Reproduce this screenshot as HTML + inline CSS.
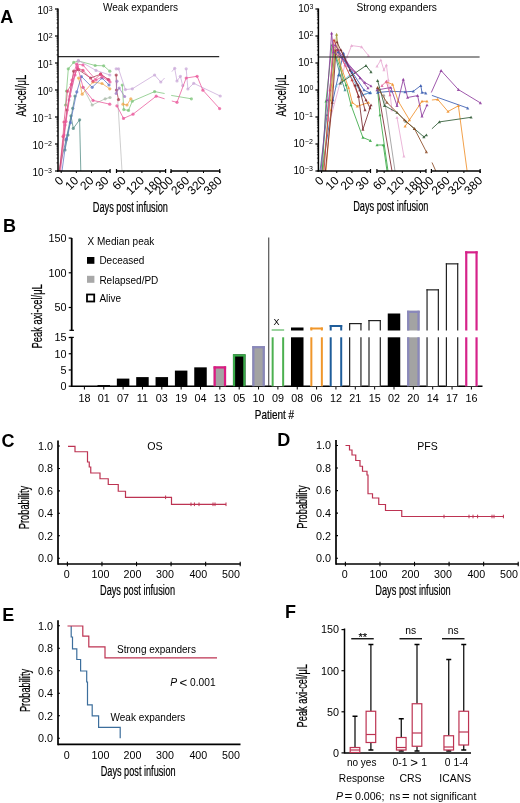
<!DOCTYPE html>
<html><head><meta charset="utf-8"><style>
html,body{margin:0;padding:0;background:#fff;}
svg{display:block;font-family:"Liberation Sans", sans-serif;filter:blur(0.3px);}
</style></head><body>
<svg width="520" height="803" viewBox="0 0 520 803">
<rect width="520" height="803" fill="#fff"/>
<text x="0.30" y="23.00" font-size="18" text-anchor="start" font-weight="bold" fill="#000" >A</text>
<text x="2.90" y="232.30" font-size="18" text-anchor="start" font-weight="bold" fill="#000" >B</text>
<text x="1.60" y="446.90" font-size="18" text-anchor="start" font-weight="bold" fill="#000" >C</text>
<text x="277.30" y="446.10" font-size="18" text-anchor="start" font-weight="bold" fill="#000" >D</text>
<text x="2.20" y="621.10" font-size="18" text-anchor="start" font-weight="bold" fill="#000" >E</text>
<text x="285.00" y="618.20" font-size="18" text-anchor="start" font-weight="bold" fill="#000" >F</text>
<polyline points="117.7,99.6 122.0,171.0" fill="none" stroke="#bdbdbd" stroke-width="1.0" stroke-linejoin="round" opacity="0.75"/>
<polyline points="83.0,87.3 92.2,105.0 105.2,98.8 110.0,97.5" fill="none" stroke="#a9bba9" stroke-width="1.0" stroke-linejoin="round" opacity="0.75"/>
<circle cx="83.0" cy="87.3" r="1.6" fill="#a9bba9" opacity="0.75"/>
<circle cx="92.2" cy="105.0" r="1.6" fill="#a9bba9" opacity="0.75"/>
<circle cx="105.2" cy="98.8" r="1.6" fill="#a9bba9" opacity="0.75"/>
<circle cx="110.0" cy="97.5" r="1.6" fill="#a9bba9" opacity="0.75"/>
<polyline points="59.0,171.0 66.0,140.0 71.0,115.8 73.3,128.4 79.6,119.8 80.8,171.0" fill="none" stroke="#4f8a82" stroke-width="1.0" stroke-linejoin="round" opacity="0.75"/>
<circle cx="66.0" cy="140.0" r="1.6" fill="#4f8a82" opacity="0.75"/>
<circle cx="71.0" cy="115.8" r="1.6" fill="#4f8a82" opacity="0.75"/>
<circle cx="73.3" cy="128.4" r="1.6" fill="#4f8a82" opacity="0.75"/>
<circle cx="79.6" cy="119.8" r="1.6" fill="#4f8a82" opacity="0.75"/>
<polyline points="65.0,150.0 68.0,135.0 72.7,108.3 75.0,96.0" fill="none" stroke="#4f8a82" stroke-width="1.0" stroke-linejoin="round" opacity="0.75"/>
<circle cx="65.0" cy="150.0" r="1.6" fill="#4f8a82" opacity="0.75"/>
<circle cx="68.0" cy="135.0" r="1.6" fill="#4f8a82" opacity="0.75"/>
<circle cx="72.7" cy="108.3" r="1.6" fill="#4f8a82" opacity="0.75"/>
<circle cx="75.0" cy="96.0" r="1.6" fill="#4f8a82" opacity="0.75"/>
<polyline points="65.5,105.0 66.5,91.0 68.3,68.8 73.7,62.4 78.5,61.0 95.2,65.5 103.7,65.8 109.8,71.2" fill="none" stroke="#7cc47a" stroke-width="1.0" stroke-linejoin="round" opacity="0.75"/>
<circle cx="65.5" cy="105.0" r="1.6" fill="#7cc47a" opacity="0.75"/>
<circle cx="66.5" cy="91.0" r="1.6" fill="#7cc47a" opacity="0.75"/>
<circle cx="68.3" cy="68.8" r="1.6" fill="#7cc47a" opacity="0.75"/>
<circle cx="73.7" cy="62.4" r="1.6" fill="#7cc47a" opacity="0.75"/>
<circle cx="78.5" cy="61.0" r="1.6" fill="#7cc47a" opacity="0.75"/>
<circle cx="95.2" cy="65.5" r="1.6" fill="#7cc47a" opacity="0.75"/>
<circle cx="103.7" cy="65.8" r="1.6" fill="#7cc47a" opacity="0.75"/>
<circle cx="109.8" cy="71.2" r="1.6" fill="#7cc47a" opacity="0.75"/>
<polyline points="122.3,85.0 123.8,109.6 128.5,110.4 132.3,101.2 154.6,91.6 164.6,93.5" fill="none" stroke="#7cc47a" stroke-width="1.0" stroke-linejoin="round" opacity="0.75"/>
<circle cx="122.3" cy="85.0" r="1.6" fill="#7cc47a" opacity="0.75"/>
<circle cx="123.8" cy="109.6" r="1.6" fill="#7cc47a" opacity="0.75"/>
<circle cx="128.5" cy="110.4" r="1.6" fill="#7cc47a" opacity="0.75"/>
<circle cx="132.3" cy="101.2" r="1.6" fill="#7cc47a" opacity="0.75"/>
<circle cx="154.6" cy="91.6" r="1.6" fill="#7cc47a" opacity="0.75"/>
<polyline points="171.2,95.4 191.4,98.8" fill="none" stroke="#7cc47a" stroke-width="1.0" stroke-linejoin="round" opacity="0.75"/>
<circle cx="191.4" cy="98.8" r="1.6" fill="#7cc47a" opacity="0.75"/>
<polyline points="69.0,100.0 78.3,60.4 96.0,70.4 109.8,75.0" fill="none" stroke="#c9a8d8" stroke-width="1.0" stroke-linejoin="round" opacity="0.75"/>
<circle cx="69.0" cy="100.0" r="1.6" fill="#c9a8d8" opacity="0.75"/>
<circle cx="78.3" cy="60.4" r="1.6" fill="#c9a8d8" opacity="0.75"/>
<circle cx="96.0" cy="70.4" r="1.6" fill="#c9a8d8" opacity="0.75"/>
<circle cx="109.8" cy="75.0" r="1.6" fill="#c9a8d8" opacity="0.75"/>
<polyline points="116.2,68.8 118.5,68.8 125.4,89.6 132.3,88.8 154.6,75.0 160.8,82.0 164.6,78.0" fill="none" stroke="#c9a8d8" stroke-width="1.0" stroke-linejoin="round" opacity="0.75"/>
<circle cx="116.2" cy="68.8" r="1.6" fill="#c9a8d8" opacity="0.75"/>
<circle cx="118.5" cy="68.8" r="1.6" fill="#c9a8d8" opacity="0.75"/>
<circle cx="125.4" cy="89.6" r="1.6" fill="#c9a8d8" opacity="0.75"/>
<circle cx="132.3" cy="88.8" r="1.6" fill="#c9a8d8" opacity="0.75"/>
<circle cx="154.6" cy="75.0" r="1.6" fill="#c9a8d8" opacity="0.75"/>
<circle cx="160.8" cy="82.0" r="1.6" fill="#c9a8d8" opacity="0.75"/>
<polyline points="171.8,71.7 174.7,68.3 177.0,81.0 180.4,76.3 182.7,85.6" fill="none" stroke="#c9a8d8" stroke-width="1.0" stroke-linejoin="round" opacity="0.75"/>
<circle cx="174.7" cy="68.3" r="1.6" fill="#c9a8d8" opacity="0.75"/>
<circle cx="177.0" cy="81.0" r="1.6" fill="#c9a8d8" opacity="0.75"/>
<circle cx="180.4" cy="76.3" r="1.6" fill="#c9a8d8" opacity="0.75"/>
<circle cx="182.7" cy="85.6" r="1.6" fill="#c9a8d8" opacity="0.75"/>
<polyline points="186.2,68.8 187.9,89.0 193.7,83.3 220.2,96.0" fill="none" stroke="#c9a8d8" stroke-width="1.0" stroke-linejoin="round" opacity="0.75"/>
<circle cx="186.2" cy="68.8" r="1.6" fill="#c9a8d8" opacity="0.75"/>
<circle cx="187.9" cy="89.0" r="1.6" fill="#c9a8d8" opacity="0.75"/>
<circle cx="193.7" cy="83.3" r="1.6" fill="#c9a8d8" opacity="0.75"/>
<circle cx="220.2" cy="96.0" r="1.6" fill="#c9a8d8" opacity="0.75"/>
<polyline points="78.6,78.0 82.2,94.2 93.0,82.0 102.0,83.5 109.8,88.8" fill="none" stroke="#f0a64a" stroke-width="1.0" stroke-linejoin="round" opacity="0.75"/>
<circle cx="78.6" cy="78.0" r="1.6" fill="#f0a64a" opacity="0.75"/>
<circle cx="82.2" cy="94.2" r="1.6" fill="#f0a64a" opacity="0.75"/>
<circle cx="93.0" cy="82.0" r="1.6" fill="#f0a64a" opacity="0.75"/>
<circle cx="102.0" cy="83.5" r="1.6" fill="#f0a64a" opacity="0.75"/>
<circle cx="109.8" cy="88.8" r="1.6" fill="#f0a64a" opacity="0.75"/>
<polyline points="123.0,104.2 127.0,105.0 130.8,98.8" fill="none" stroke="#f0a64a" stroke-width="1.0" stroke-linejoin="round" opacity="0.75"/>
<circle cx="123.0" cy="104.2" r="1.6" fill="#f0a64a" opacity="0.75"/>
<circle cx="127.0" cy="105.0" r="1.6" fill="#f0a64a" opacity="0.75"/>
<circle cx="130.8" cy="98.8" r="1.6" fill="#f0a64a" opacity="0.75"/>
<polyline points="62.0,171.0 66.4,138.8 70.4,122.7 76.8,91.9 81.4,76.5 92.2,87.3 102.0,78.0 109.0,85.0" fill="none" stroke="#5b74c4" stroke-width="1.0" stroke-linejoin="round" opacity="0.75"/>
<circle cx="66.4" cy="138.8" r="1.6" fill="#5b74c4" opacity="0.75"/>
<circle cx="70.4" cy="122.7" r="1.6" fill="#5b74c4" opacity="0.75"/>
<circle cx="76.8" cy="91.9" r="1.6" fill="#5b74c4" opacity="0.75"/>
<circle cx="81.4" cy="76.5" r="1.6" fill="#5b74c4" opacity="0.75"/>
<circle cx="92.2" cy="87.3" r="1.6" fill="#5b74c4" opacity="0.75"/>
<circle cx="102.0" cy="78.0" r="1.6" fill="#5b74c4" opacity="0.75"/>
<circle cx="109.0" cy="85.0" r="1.6" fill="#5b74c4" opacity="0.75"/>
<polyline points="59.5,171.0 67.0,110.0 73.7,71.2 78.3,69.6 90.6,78.0 100.6,74.2 108.3,79.6" fill="none" stroke="#a8384e" stroke-width="1.0" stroke-linejoin="round" opacity="0.75"/>
<circle cx="67.0" cy="110.0" r="1.6" fill="#a8384e" opacity="0.75"/>
<circle cx="73.7" cy="71.2" r="1.6" fill="#a8384e" opacity="0.75"/>
<circle cx="78.3" cy="69.6" r="1.6" fill="#a8384e" opacity="0.75"/>
<circle cx="90.6" cy="78.0" r="1.6" fill="#a8384e" opacity="0.75"/>
<circle cx="100.6" cy="74.2" r="1.6" fill="#a8384e" opacity="0.75"/>
<circle cx="108.3" cy="79.6" r="1.6" fill="#a8384e" opacity="0.75"/>
<polyline points="116.2,75.0 116.5,90.0 118.5,99.6" fill="none" stroke="#a8384e" stroke-width="1.0" stroke-linejoin="round" opacity="0.75"/>
<circle cx="116.2" cy="75.0" r="1.6" fill="#a8384e" opacity="0.75"/>
<circle cx="116.5" cy="90.0" r="1.6" fill="#a8384e" opacity="0.75"/>
<circle cx="118.5" cy="99.6" r="1.6" fill="#a8384e" opacity="0.75"/>
<polyline points="116.9,81.2 116.2,93.5 119.2,88.0 124.6,96.5" fill="none" stroke="#a27cc4" stroke-width="1.0" stroke-linejoin="round" opacity="0.75"/>
<circle cx="116.9" cy="81.2" r="1.6" fill="#a27cc4" opacity="0.75"/>
<circle cx="116.2" cy="93.5" r="1.6" fill="#a27cc4" opacity="0.75"/>
<circle cx="119.2" cy="88.0" r="1.6" fill="#a27cc4" opacity="0.75"/>
<circle cx="124.6" cy="96.5" r="1.6" fill="#a27cc4" opacity="0.75"/>
<polyline points="59.5,171.0 63.0,136.5 64.0,122.0 67.5,91.2 71.4,84.2 77.5,68.0 83.0,70.4 93.0,81.2 100.6,74.2 109.0,80.0" fill="none" stroke="#e2457c" stroke-width="1.0" stroke-linejoin="round" opacity="0.75"/>
<circle cx="63.0" cy="136.5" r="1.6" fill="#e2457c" opacity="0.75"/>
<circle cx="64.0" cy="122.0" r="1.6" fill="#e2457c" opacity="0.75"/>
<circle cx="67.5" cy="91.2" r="1.6" fill="#e2457c" opacity="0.75"/>
<circle cx="71.4" cy="84.2" r="1.6" fill="#e2457c" opacity="0.75"/>
<circle cx="77.5" cy="68.0" r="1.6" fill="#e2457c" opacity="0.75"/>
<circle cx="83.0" cy="70.4" r="1.6" fill="#e2457c" opacity="0.75"/>
<circle cx="93.0" cy="81.2" r="1.6" fill="#e2457c" opacity="0.75"/>
<circle cx="100.6" cy="74.2" r="1.6" fill="#e2457c" opacity="0.75"/>
<circle cx="109.0" cy="80.0" r="1.6" fill="#e2457c" opacity="0.75"/>
<polyline points="60.5,171.0 66.0,121.5 70.0,96.0 75.0,75.0 77.5,66.0 83.0,87.3 93.0,100.4 109.8,104.2" fill="none" stroke="#e9559a" stroke-width="1.0" stroke-linejoin="round" opacity="0.75"/>
<circle cx="66.0" cy="121.5" r="1.6" fill="#e9559a" opacity="0.75"/>
<circle cx="70.0" cy="96.0" r="1.6" fill="#e9559a" opacity="0.75"/>
<circle cx="75.0" cy="75.0" r="1.6" fill="#e9559a" opacity="0.75"/>
<circle cx="77.5" cy="66.0" r="1.6" fill="#e9559a" opacity="0.75"/>
<circle cx="83.0" cy="87.3" r="1.6" fill="#e9559a" opacity="0.75"/>
<circle cx="93.0" cy="100.4" r="1.6" fill="#e9559a" opacity="0.75"/>
<circle cx="109.8" cy="104.2" r="1.6" fill="#e9559a" opacity="0.75"/>
<polyline points="64.0,135.0 65.0,125.0 72.0,80.0 76.5,64.0 83.0,65.0 96.0,80.0 102.0,77.0 110.0,82.0" fill="none" stroke="#e9559a" stroke-width="1.0" stroke-linejoin="round" opacity="0.75"/>
<circle cx="64.0" cy="135.0" r="1.6" fill="#e9559a" opacity="0.75"/>
<circle cx="65.0" cy="125.0" r="1.6" fill="#e9559a" opacity="0.75"/>
<circle cx="72.0" cy="80.0" r="1.6" fill="#e9559a" opacity="0.75"/>
<circle cx="76.5" cy="64.0" r="1.6" fill="#e9559a" opacity="0.75"/>
<circle cx="83.0" cy="65.0" r="1.6" fill="#e9559a" opacity="0.75"/>
<circle cx="96.0" cy="80.0" r="1.6" fill="#e9559a" opacity="0.75"/>
<circle cx="102.0" cy="77.0" r="1.6" fill="#e9559a" opacity="0.75"/>
<circle cx="110.0" cy="82.0" r="1.6" fill="#e9559a" opacity="0.75"/>
<polyline points="116.9,105.8 123.5,118.4 133.0,114.2 156.2,96.2 164.6,98.8" fill="none" stroke="#e9559a" stroke-width="1.0" stroke-linejoin="round" opacity="0.75"/>
<circle cx="116.9" cy="105.8" r="1.6" fill="#e9559a" opacity="0.75"/>
<circle cx="123.5" cy="118.4" r="1.6" fill="#e9559a" opacity="0.75"/>
<circle cx="133.0" cy="114.2" r="1.6" fill="#e9559a" opacity="0.75"/>
<circle cx="156.2" cy="96.2" r="1.6" fill="#e9559a" opacity="0.75"/>
<polyline points="171.8,101.0 177.0,102.3 186.2,78.0 197.1,76.3 202.9,90.2 219.6,108.6" fill="none" stroke="#e9559a" stroke-width="1.0" stroke-linejoin="round" opacity="0.75"/>
<circle cx="177.0" cy="102.3" r="1.6" fill="#e9559a" opacity="0.75"/>
<circle cx="186.2" cy="78.0" r="1.6" fill="#e9559a" opacity="0.75"/>
<circle cx="197.1" cy="76.3" r="1.6" fill="#e9559a" opacity="0.75"/>
<circle cx="202.9" cy="90.2" r="1.6" fill="#e9559a" opacity="0.75"/>
<circle cx="219.6" cy="108.6" r="1.6" fill="#e9559a" opacity="0.75"/>
<polyline points="383.9,95.0 395.0,171.0" fill="none" stroke="#9a9a9a" stroke-width="1.0" stroke-linejoin="round" opacity="0.85"/>
<path d="M383.9,93.4L385.5,96.3L382.3,96.3Z" fill="#9a9a9a" opacity="0.85"/>
<polyline points="377.6,88.0 392.0,171.0" fill="none" stroke="#7a2a30" stroke-width="1.0" stroke-linejoin="round" opacity="0.85"/>
<path d="M377.6,86.4L379.2,89.3L376.0,89.3Z" fill="#7a2a30" opacity="0.85"/>
<polyline points="377.6,90.0 380.0,115.0 388.0,171.0" fill="none" stroke="#3aa845" stroke-width="1.0" stroke-linejoin="round" opacity="0.85"/>
<path d="M377.6,88.4L379.2,91.3L376.0,91.3Z" fill="#3aa845" opacity="0.85"/>
<path d="M380.0,113.4L381.6,116.3L378.4,116.3Z" fill="#3aa845" opacity="0.85"/>
<polyline points="397.0,117.5 403.9,156.3" fill="none" stroke="#e8aad2" stroke-width="1.0" stroke-linejoin="round" opacity="0.85"/>
<path d="M397.0,115.9L398.6,118.8L395.4,118.8Z" fill="#e8aad2" opacity="0.85"/>
<path d="M403.9,154.7L405.5,157.6L402.3,157.6Z" fill="#e8aad2" opacity="0.85"/>
<polyline points="377.0,145.0 383.3,145.0 387.0,171.0" fill="none" stroke="#3aa845" stroke-width="1.0" stroke-linejoin="round" opacity="0.85"/>
<path d="M377.0,143.4L378.6,146.3L375.4,146.3Z" fill="#3aa845" opacity="0.85"/>
<path d="M383.3,143.4L384.9,146.3L381.7,146.3Z" fill="#3aa845" opacity="0.85"/>
<polyline points="322.0,171.0 333.0,100.0 338.5,75.0 343.5,53.1 350.0,70.0 362.3,95.0 370.4,92.5" fill="none" stroke="#3a5cb0" stroke-width="1.0" stroke-linejoin="round" opacity="0.85"/>
<path d="M333.0,98.4L334.6,101.3L331.4,101.3Z" fill="#3a5cb0" opacity="0.85"/>
<path d="M338.5,73.4L340.1,76.3L336.9,76.3Z" fill="#3a5cb0" opacity="0.85"/>
<path d="M343.5,51.5L345.1,54.4L341.9,54.4Z" fill="#3a5cb0" opacity="0.85"/>
<path d="M350.0,68.4L351.6,71.3L348.4,71.3Z" fill="#3a5cb0" opacity="0.85"/>
<path d="M362.3,93.4L363.9,96.3L360.7,96.3Z" fill="#3a5cb0" opacity="0.85"/>
<path d="M370.4,90.9L372.0,93.8L368.8,93.8Z" fill="#3a5cb0" opacity="0.85"/>
<polyline points="377.6,92.5 390.8,91.3 405.1,91.9 413.3,91.3 420.8,85.6 422.0,92.5 425.8,93.1" fill="none" stroke="#3a5cb0" stroke-width="1.0" stroke-linejoin="round" opacity="0.85"/>
<path d="M377.6,90.9L379.2,93.8L376.0,93.8Z" fill="#3a5cb0" opacity="0.85"/>
<path d="M390.8,89.7L392.4,92.6L389.2,92.6Z" fill="#3a5cb0" opacity="0.85"/>
<path d="M405.1,90.3L406.7,93.2L403.5,93.2Z" fill="#3a5cb0" opacity="0.85"/>
<path d="M413.3,89.7L414.9,92.6L411.7,92.6Z" fill="#3a5cb0" opacity="0.85"/>
<path d="M420.8,84.0L422.4,86.9L419.2,86.9Z" fill="#3a5cb0" opacity="0.85"/>
<path d="M422.0,90.9L423.6,93.8L420.4,93.8Z" fill="#3a5cb0" opacity="0.85"/>
<path d="M425.8,91.5L427.4,94.4L424.2,94.4Z" fill="#3a5cb0" opacity="0.85"/>
<polyline points="431.9,95.4 467.7,108.1" fill="none" stroke="#3a5cb0" stroke-width="1.0" stroke-linejoin="round" opacity="0.85"/>
<path d="M467.7,106.5L469.3,109.4L466.1,109.4Z" fill="#3a5cb0" opacity="0.85"/>
<polyline points="336.0,86.0 350.0,75.0 362.3,95.0 370.4,92.5" fill="none" stroke="#74b4dc" stroke-width="1.0" stroke-linejoin="round" opacity="0.85"/>
<path d="M336.0,84.4L337.6,87.3L334.4,87.3Z" fill="#74b4dc" opacity="0.85"/>
<path d="M350.0,73.4L351.6,76.3L348.4,76.3Z" fill="#74b4dc" opacity="0.85"/>
<path d="M362.3,93.4L363.9,96.3L360.7,96.3Z" fill="#74b4dc" opacity="0.85"/>
<path d="M370.4,90.9L372.0,93.8L368.8,93.8Z" fill="#74b4dc" opacity="0.85"/>
<polyline points="330.0,120.0 347.3,56.3 351.6,45.6 361.6,46.9 368.5,55.6" fill="none" stroke="#e8aad2" stroke-width="1.0" stroke-linejoin="round" opacity="0.85"/>
<path d="M330.0,118.4L331.6,121.3L328.4,121.3Z" fill="#e8aad2" opacity="0.85"/>
<path d="M347.3,54.7L348.9,57.6L345.7,57.6Z" fill="#e8aad2" opacity="0.85"/>
<path d="M351.6,44.0L353.2,46.9L350.0,46.9Z" fill="#e8aad2" opacity="0.85"/>
<path d="M361.6,45.3L363.2,48.2L360.0,48.2Z" fill="#e8aad2" opacity="0.85"/>
<path d="M368.5,54.0L370.1,56.9L366.9,56.9Z" fill="#e8aad2" opacity="0.85"/>
<polyline points="377.0,66.3 380.8,60.0 383.9,70.0 386.4,65.0 388.3,80.0 392.0,110.0" fill="none" stroke="#e8aad2" stroke-width="1.0" stroke-linejoin="round" opacity="0.85"/>
<path d="M377.0,64.7L378.6,67.6L375.4,67.6Z" fill="#e8aad2" opacity="0.85"/>
<path d="M380.8,58.4L382.4,61.3L379.2,61.3Z" fill="#e8aad2" opacity="0.85"/>
<path d="M383.9,68.4L385.5,71.3L382.3,71.3Z" fill="#e8aad2" opacity="0.85"/>
<path d="M386.4,63.4L388.0,66.3L384.8,66.3Z" fill="#e8aad2" opacity="0.85"/>
<path d="M388.3,78.4L389.9,81.3L386.7,81.3Z" fill="#e8aad2" opacity="0.85"/>
<path d="M392.0,108.4L393.6,111.3L390.4,111.3Z" fill="#e8aad2" opacity="0.85"/>
<polyline points="322.3,171.0 326.0,101.2 332.0,45.0 346.0,85.0 351.0,105.0 362.9,137.5 370.4,140.6" fill="none" stroke="#3aa845" stroke-width="1.0" stroke-linejoin="round" opacity="0.85"/>
<path d="M326.0,99.7L327.6,102.5L324.4,102.5Z" fill="#3aa845" opacity="0.85"/>
<path d="M332.0,43.4L333.6,46.3L330.4,46.3Z" fill="#3aa845" opacity="0.85"/>
<path d="M346.0,83.4L347.6,86.3L344.4,86.3Z" fill="#3aa845" opacity="0.85"/>
<path d="M351.0,103.4L352.6,106.3L349.4,106.3Z" fill="#3aa845" opacity="0.85"/>
<path d="M362.9,135.9L364.5,138.8L361.3,138.8Z" fill="#3aa845" opacity="0.85"/>
<path d="M370.4,139.0L372.0,141.9L368.8,141.9Z" fill="#3aa845" opacity="0.85"/>
<polyline points="320.0,171.0 327.0,115.0 334.0,50.0 340.0,75.0 345.0,90.0" fill="none" stroke="#3a8a8a" stroke-width="1.0" stroke-linejoin="round" opacity="0.85"/>
<path d="M327.0,113.4L328.6,116.3L325.4,116.3Z" fill="#3a8a8a" opacity="0.85"/>
<path d="M334.0,48.4L335.6,51.3L332.4,51.3Z" fill="#3a8a8a" opacity="0.85"/>
<path d="M340.0,73.4L341.6,76.3L338.4,76.3Z" fill="#3a8a8a" opacity="0.85"/>
<path d="M345.0,88.4L346.6,91.3L343.4,91.3Z" fill="#3a8a8a" opacity="0.85"/>
<polyline points="326.0,171.0 331.0,110.0 335.0,50.0 348.5,87.5 352.3,102.5 357.3,106.3 368.5,102.5" fill="none" stroke="#f0902c" stroke-width="1.0" stroke-linejoin="round" opacity="0.85"/>
<path d="M331.0,108.4L332.6,111.3L329.4,111.3Z" fill="#f0902c" opacity="0.85"/>
<path d="M335.0,48.4L336.6,51.3L333.4,51.3Z" fill="#f0902c" opacity="0.85"/>
<path d="M348.5,85.9L350.1,88.8L346.9,88.8Z" fill="#f0902c" opacity="0.85"/>
<path d="M352.3,100.9L353.9,103.8L350.7,103.8Z" fill="#f0902c" opacity="0.85"/>
<path d="M357.3,104.7L358.9,107.6L355.7,107.6Z" fill="#f0902c" opacity="0.85"/>
<path d="M368.5,100.9L370.1,103.8L366.9,103.8Z" fill="#f0902c" opacity="0.85"/>
<polyline points="386.4,81.9 392.6,84.4 398.3,101.3 409.5,120.0" fill="none" stroke="#f0902c" stroke-width="1.0" stroke-linejoin="round" opacity="0.85"/>
<path d="M386.4,80.3L388.0,83.2L384.8,83.2Z" fill="#f0902c" opacity="0.85"/>
<path d="M392.6,82.8L394.2,85.7L391.0,85.7Z" fill="#f0902c" opacity="0.85"/>
<path d="M398.3,99.7L399.9,102.6L396.7,102.6Z" fill="#f0902c" opacity="0.85"/>
<path d="M409.5,118.4L411.1,121.3L407.9,121.3Z" fill="#f0902c" opacity="0.85"/>
<polyline points="405.1,126.3 419.5,105.0 422.0,101.3 427.0,101.3" fill="none" stroke="#f0902c" stroke-width="1.0" stroke-linejoin="round" opacity="0.85"/>
<path d="M405.1,124.7L406.7,127.6L403.5,127.6Z" fill="#f0902c" opacity="0.85"/>
<path d="M419.5,103.4L421.1,106.3L417.9,106.3Z" fill="#f0902c" opacity="0.85"/>
<path d="M422.0,99.7L423.6,102.6L420.4,102.6Z" fill="#f0902c" opacity="0.85"/>
<path d="M427.0,99.7L428.6,102.6L425.4,102.6Z" fill="#f0902c" opacity="0.85"/>
<polyline points="431.9,100.0 437.7,99.4 448.0,111.5 458.4,105.8 467.1,171.0" fill="none" stroke="#f0902c" stroke-width="1.0" stroke-linejoin="round" opacity="0.85"/>
<path d="M437.7,97.8L439.3,100.7L436.1,100.7Z" fill="#f0902c" opacity="0.85"/>
<path d="M448.0,109.9L449.6,112.8L446.4,112.8Z" fill="#f0902c" opacity="0.85"/>
<path d="M458.4,104.2L460.0,107.1L456.8,107.1Z" fill="#f0902c" opacity="0.85"/>
<polyline points="323.0,171.0 330.0,100.0 336.6,34.4 338.5,52.0 342.5,80.0" fill="none" stroke="#a39a3a" stroke-width="1.0" stroke-linejoin="round" opacity="0.85"/>
<path d="M330.0,98.4L331.6,101.3L328.4,101.3Z" fill="#a39a3a" opacity="0.85"/>
<path d="M336.6,32.8L338.2,35.7L335.0,35.7Z" fill="#a39a3a" opacity="0.85"/>
<path d="M338.5,50.4L340.1,53.3L336.9,53.3Z" fill="#a39a3a" opacity="0.85"/>
<path d="M342.5,78.4L344.1,81.3L340.9,81.3Z" fill="#a39a3a" opacity="0.85"/>
<polyline points="324.0,171.0 330.0,90.0 334.0,40.0 338.0,50.0 352.0,80.0 358.5,96.2" fill="none" stroke="#c83838" stroke-width="1.0" stroke-linejoin="round" opacity="0.85"/>
<path d="M330.0,88.4L331.6,91.3L328.4,91.3Z" fill="#c83838" opacity="0.85"/>
<path d="M334.0,38.4L335.6,41.3L332.4,41.3Z" fill="#c83838" opacity="0.85"/>
<path d="M338.0,48.4L339.6,51.3L336.4,51.3Z" fill="#c83838" opacity="0.85"/>
<path d="M352.0,78.4L353.6,81.3L350.4,81.3Z" fill="#c83838" opacity="0.85"/>
<path d="M358.5,94.7L360.1,97.5L356.9,97.5Z" fill="#c83838" opacity="0.85"/>
<polyline points="355.0,85.0 358.5,96.2 362.9,129.4 371.0,105.0" fill="none" stroke="#7a2a30" stroke-width="1.0" stroke-linejoin="round" opacity="0.85"/>
<path d="M355.0,83.4L356.6,86.3L353.4,86.3Z" fill="#7a2a30" opacity="0.85"/>
<path d="M358.5,94.7L360.1,97.5L356.9,97.5Z" fill="#7a2a30" opacity="0.85"/>
<path d="M362.9,127.8L364.5,130.7L361.3,130.7Z" fill="#7a2a30" opacity="0.85"/>
<path d="M371.0,103.4L372.6,106.3L369.4,106.3Z" fill="#7a2a30" opacity="0.85"/>
<polyline points="325.4,171.0 332.3,102.5 336.0,50.0 341.0,50.0 359.8,90.0 365.0,110.0" fill="none" stroke="#7a2a30" stroke-width="1.0" stroke-linejoin="round" opacity="0.85"/>
<path d="M332.3,100.9L333.9,103.8L330.7,103.8Z" fill="#7a2a30" opacity="0.85"/>
<path d="M336.0,48.4L337.6,51.3L334.4,51.3Z" fill="#7a2a30" opacity="0.85"/>
<path d="M341.0,48.4L342.6,51.3L339.4,51.3Z" fill="#7a2a30" opacity="0.85"/>
<path d="M359.8,88.4L361.4,91.3L358.2,91.3Z" fill="#7a2a30" opacity="0.85"/>
<path d="M365.0,108.4L366.6,111.3L363.4,111.3Z" fill="#7a2a30" opacity="0.85"/>
<polyline points="328.0,120.0 333.0,45.0 345.0,65.0 355.0,72.0" fill="none" stroke="#e0609a" stroke-width="1.0" stroke-linejoin="round" opacity="0.85"/>
<path d="M328.0,118.4L329.6,121.3L326.4,121.3Z" fill="#e0609a" opacity="0.85"/>
<path d="M333.0,43.4L334.6,46.3L331.4,46.3Z" fill="#e0609a" opacity="0.85"/>
<path d="M345.0,63.4L346.6,66.3L343.4,66.3Z" fill="#e0609a" opacity="0.85"/>
<path d="M355.0,70.4L356.6,73.3L353.4,73.3Z" fill="#e0609a" opacity="0.85"/>
<polyline points="382.0,85.6 386.4,81.3 390.0,95.0" fill="none" stroke="#e0609a" stroke-width="1.0" stroke-linejoin="round" opacity="0.85"/>
<path d="M382.0,84.0L383.6,86.9L380.4,86.9Z" fill="#e0609a" opacity="0.85"/>
<path d="M386.4,79.7L388.0,82.6L384.8,82.6Z" fill="#e0609a" opacity="0.85"/>
<path d="M390.0,93.4L391.6,96.3L388.4,96.3Z" fill="#e0609a" opacity="0.85"/>
<polyline points="321.0,171.0 327.0,100.0 331.6,33.1 333.5,52.0 347.0,62.5 364.8,82.5 371.0,86.0" fill="none" stroke="#8e3c9e" stroke-width="1.0" stroke-linejoin="round" opacity="0.85"/>
<path d="M327.0,98.4L328.6,101.3L325.4,101.3Z" fill="#8e3c9e" opacity="0.85"/>
<path d="M331.6,31.5L333.2,34.4L330.0,34.4Z" fill="#8e3c9e" opacity="0.85"/>
<path d="M333.5,50.4L335.1,53.3L331.9,53.3Z" fill="#8e3c9e" opacity="0.85"/>
<path d="M347.0,60.9L348.6,63.8L345.4,63.8Z" fill="#8e3c9e" opacity="0.85"/>
<path d="M364.8,80.9L366.4,83.8L363.2,83.8Z" fill="#8e3c9e" opacity="0.85"/>
<path d="M371.0,84.4L372.6,87.3L369.4,87.3Z" fill="#8e3c9e" opacity="0.85"/>
<polyline points="377.0,90.0 390.8,87.5 397.0,105.6 403.3,79.4 407.6,97.5 417.6,95.6 422.0,116.3 427.0,105.0" fill="none" stroke="#8e3c9e" stroke-width="1.0" stroke-linejoin="round" opacity="0.85"/>
<path d="M377.0,88.4L378.6,91.3L375.4,91.3Z" fill="#8e3c9e" opacity="0.85"/>
<path d="M390.8,85.9L392.4,88.8L389.2,88.8Z" fill="#8e3c9e" opacity="0.85"/>
<path d="M397.0,104.0L398.6,106.9L395.4,106.9Z" fill="#8e3c9e" opacity="0.85"/>
<path d="M403.3,77.8L404.9,80.7L401.7,80.7Z" fill="#8e3c9e" opacity="0.85"/>
<path d="M407.6,95.9L409.2,98.8L406.0,98.8Z" fill="#8e3c9e" opacity="0.85"/>
<path d="M417.6,94.0L419.2,96.9L416.0,96.9Z" fill="#8e3c9e" opacity="0.85"/>
<path d="M422.0,114.7L423.6,117.6L420.4,117.6Z" fill="#8e3c9e" opacity="0.85"/>
<path d="M427.0,103.4L428.6,106.3L425.4,106.3Z" fill="#8e3c9e" opacity="0.85"/>
<polyline points="431.3,92.5 441.1,70.6 458.4,89.6 480.4,102.9" fill="none" stroke="#8e3c9e" stroke-width="1.0" stroke-linejoin="round" opacity="0.85"/>
<path d="M441.1,69.0L442.7,71.9L439.5,71.9Z" fill="#8e3c9e" opacity="0.85"/>
<path d="M458.4,88.0L460.0,90.9L456.8,90.9Z" fill="#8e3c9e" opacity="0.85"/>
<path d="M480.4,101.3L482.0,104.2L478.8,104.2Z" fill="#8e3c9e" opacity="0.85"/>
<polyline points="340.4,83.1 366.0,65.6 371.0,71.9" fill="none" stroke="#2f5a35" stroke-width="1.0" stroke-linejoin="round" opacity="0.85"/>
<path d="M340.4,81.5L342.0,84.4L338.8,84.4Z" fill="#2f5a35" opacity="0.85"/>
<path d="M366.0,64.0L367.6,66.9L364.4,66.9Z" fill="#2f5a35" opacity="0.85"/>
<path d="M371.0,70.3L372.6,73.2L369.4,73.2Z" fill="#2f5a35" opacity="0.85"/>
<polyline points="335.0,45.0 348.0,65.0 360.0,78.0 368.0,88.0" fill="none" stroke="#8e3c9e" stroke-width="1.0" stroke-linejoin="round" opacity="0.85"/>
<path d="M335.0,43.4L336.6,46.3L333.4,46.3Z" fill="#8e3c9e" opacity="0.85"/>
<path d="M348.0,63.4L349.6,66.3L346.4,66.3Z" fill="#8e3c9e" opacity="0.85"/>
<path d="M360.0,76.4L361.6,79.3L358.4,79.3Z" fill="#8e3c9e" opacity="0.85"/>
<path d="M368.0,86.4L369.6,89.3L366.4,89.3Z" fill="#8e3c9e" opacity="0.85"/>
<polyline points="337.0,42.0 350.0,70.0 358.0,85.0 366.0,100.0 370.0,108.0" fill="none" stroke="#7a2a30" stroke-width="1.0" stroke-linejoin="round" opacity="0.85"/>
<path d="M337.0,40.4L338.6,43.3L335.4,43.3Z" fill="#7a2a30" opacity="0.85"/>
<path d="M350.0,68.4L351.6,71.3L348.4,71.3Z" fill="#7a2a30" opacity="0.85"/>
<path d="M358.0,83.4L359.6,86.3L356.4,86.3Z" fill="#7a2a30" opacity="0.85"/>
<path d="M366.0,98.4L367.6,101.3L364.4,101.3Z" fill="#7a2a30" opacity="0.85"/>
<path d="M370.0,106.4L371.6,109.3L368.4,109.3Z" fill="#7a2a30" opacity="0.85"/>
<polyline points="338.0,52.0 352.0,72.0 364.0,90.0 370.0,93.0" fill="none" stroke="#3a5cb0" stroke-width="1.0" stroke-linejoin="round" opacity="0.85"/>
<path d="M338.0,50.4L339.6,53.3L336.4,53.3Z" fill="#3a5cb0" opacity="0.85"/>
<path d="M352.0,70.4L353.6,73.3L350.4,73.3Z" fill="#3a5cb0" opacity="0.85"/>
<path d="M364.0,88.4L365.6,91.3L362.4,91.3Z" fill="#3a5cb0" opacity="0.85"/>
<path d="M370.0,91.4L371.6,94.3L368.4,94.3Z" fill="#3a5cb0" opacity="0.85"/>
<polyline points="377.6,80.6 384.5,105.6 397.0,112.5 405.8,121.3 414.5,128.8 423.9,136.9 426.4,135.0" fill="none" stroke="#2f5a35" stroke-width="1.0" stroke-linejoin="round" opacity="0.85"/>
<path d="M377.6,79.0L379.2,81.9L376.0,81.9Z" fill="#2f5a35" opacity="0.85"/>
<path d="M384.5,104.0L386.1,106.9L382.9,106.9Z" fill="#2f5a35" opacity="0.85"/>
<path d="M397.0,110.9L398.6,113.8L395.4,113.8Z" fill="#2f5a35" opacity="0.85"/>
<path d="M405.8,119.7L407.4,122.6L404.2,122.6Z" fill="#2f5a35" opacity="0.85"/>
<path d="M414.5,127.2L416.1,130.1L412.9,130.1Z" fill="#2f5a35" opacity="0.85"/>
<path d="M423.9,135.3L425.5,138.2L422.3,138.2Z" fill="#2f5a35" opacity="0.85"/>
<path d="M426.4,133.4L428.0,136.3L424.8,136.3Z" fill="#2f5a35" opacity="0.85"/>
<polyline points="431.9,128.8 439.4,121.9 471.1,117.3" fill="none" stroke="#2f5a35" stroke-width="1.0" stroke-linejoin="round" opacity="0.85"/>
<path d="M439.4,120.3L441.0,123.2L437.8,123.2Z" fill="#2f5a35" opacity="0.85"/>
<path d="M471.1,115.7L472.7,118.6L469.5,118.6Z" fill="#2f5a35" opacity="0.85"/>
<polyline points="377.6,87.5 387.0,102.5 404.5,120.0 414.5,128.8 426.4,151.9" fill="none" stroke="#8b4a24" stroke-width="1.0" stroke-linejoin="round" opacity="0.85"/>
<path d="M377.6,85.9L379.2,88.8L376.0,88.8Z" fill="#8b4a24" opacity="0.85"/>
<path d="M387.0,100.9L388.6,103.8L385.4,103.8Z" fill="#8b4a24" opacity="0.85"/>
<path d="M404.5,118.4L406.1,121.3L402.9,121.3Z" fill="#8b4a24" opacity="0.85"/>
<path d="M414.5,127.2L416.1,130.1L412.9,130.1Z" fill="#8b4a24" opacity="0.85"/>
<path d="M426.4,150.3L428.0,153.2L424.8,153.2Z" fill="#8b4a24" opacity="0.85"/>
<polyline points="432.0,162.5 435.8,171.0" fill="none" stroke="#8b4a24" stroke-width="1.0" stroke-linejoin="round" opacity="0.85"/>
<line x1="58.00" y1="56.60" x2="219.20" y2="56.60" stroke="#2a2a2a" stroke-width="1.15" />
<line x1="58.00" y1="8.50" x2="58.00" y2="171.50" stroke="#000" stroke-width="1.5" />
<line x1="55.00" y1="9.00" x2="58.00" y2="9.00" stroke="#000" stroke-width="1.2" />
<line x1="56.50" y1="27.87" x2="58.00" y2="27.87" stroke="#000" stroke-width="0.7" />
<line x1="56.50" y1="23.12" x2="58.00" y2="23.12" stroke="#000" stroke-width="0.7" />
<line x1="56.50" y1="19.74" x2="58.00" y2="19.74" stroke="#000" stroke-width="0.7" />
<line x1="56.50" y1="17.13" x2="58.00" y2="17.13" stroke="#000" stroke-width="0.7" />
<line x1="56.50" y1="14.99" x2="58.00" y2="14.99" stroke="#000" stroke-width="0.7" />
<line x1="56.50" y1="13.18" x2="58.00" y2="13.18" stroke="#000" stroke-width="0.7" />
<line x1="56.50" y1="11.62" x2="58.00" y2="11.62" stroke="#000" stroke-width="0.7" />
<line x1="56.50" y1="10.24" x2="58.00" y2="10.24" stroke="#000" stroke-width="0.7" />
<text x="48.50" y="14.00" font-size="10" text-anchor="end" font-weight="normal" fill="#000" >10</text>
<text x="48.70" y="10.60" font-size="7" text-anchor="start" font-weight="normal" fill="#000" >3</text>
<line x1="55.00" y1="36.00" x2="58.00" y2="36.00" stroke="#000" stroke-width="1.2" />
<line x1="56.50" y1="54.87" x2="58.00" y2="54.87" stroke="#000" stroke-width="0.7" />
<line x1="56.50" y1="50.12" x2="58.00" y2="50.12" stroke="#000" stroke-width="0.7" />
<line x1="56.50" y1="46.74" x2="58.00" y2="46.74" stroke="#000" stroke-width="0.7" />
<line x1="56.50" y1="44.13" x2="58.00" y2="44.13" stroke="#000" stroke-width="0.7" />
<line x1="56.50" y1="41.99" x2="58.00" y2="41.99" stroke="#000" stroke-width="0.7" />
<line x1="56.50" y1="40.18" x2="58.00" y2="40.18" stroke="#000" stroke-width="0.7" />
<line x1="56.50" y1="38.62" x2="58.00" y2="38.62" stroke="#000" stroke-width="0.7" />
<line x1="56.50" y1="37.24" x2="58.00" y2="37.24" stroke="#000" stroke-width="0.7" />
<text x="48.50" y="41.00" font-size="10" text-anchor="end" font-weight="normal" fill="#000" >10</text>
<text x="48.70" y="37.60" font-size="7" text-anchor="start" font-weight="normal" fill="#000" >2</text>
<line x1="55.00" y1="63.00" x2="58.00" y2="63.00" stroke="#000" stroke-width="1.2" />
<line x1="56.50" y1="81.87" x2="58.00" y2="81.87" stroke="#000" stroke-width="0.7" />
<line x1="56.50" y1="77.12" x2="58.00" y2="77.12" stroke="#000" stroke-width="0.7" />
<line x1="56.50" y1="73.74" x2="58.00" y2="73.74" stroke="#000" stroke-width="0.7" />
<line x1="56.50" y1="71.13" x2="58.00" y2="71.13" stroke="#000" stroke-width="0.7" />
<line x1="56.50" y1="68.99" x2="58.00" y2="68.99" stroke="#000" stroke-width="0.7" />
<line x1="56.50" y1="67.18" x2="58.00" y2="67.18" stroke="#000" stroke-width="0.7" />
<line x1="56.50" y1="65.62" x2="58.00" y2="65.62" stroke="#000" stroke-width="0.7" />
<line x1="56.50" y1="64.24" x2="58.00" y2="64.24" stroke="#000" stroke-width="0.7" />
<text x="48.50" y="68.00" font-size="10" text-anchor="end" font-weight="normal" fill="#000" >10</text>
<text x="48.70" y="64.60" font-size="7" text-anchor="start" font-weight="normal" fill="#000" >1</text>
<line x1="55.00" y1="90.00" x2="58.00" y2="90.00" stroke="#000" stroke-width="1.2" />
<line x1="56.50" y1="108.87" x2="58.00" y2="108.87" stroke="#000" stroke-width="0.7" />
<line x1="56.50" y1="104.12" x2="58.00" y2="104.12" stroke="#000" stroke-width="0.7" />
<line x1="56.50" y1="100.74" x2="58.00" y2="100.74" stroke="#000" stroke-width="0.7" />
<line x1="56.50" y1="98.13" x2="58.00" y2="98.13" stroke="#000" stroke-width="0.7" />
<line x1="56.50" y1="95.99" x2="58.00" y2="95.99" stroke="#000" stroke-width="0.7" />
<line x1="56.50" y1="94.18" x2="58.00" y2="94.18" stroke="#000" stroke-width="0.7" />
<line x1="56.50" y1="92.62" x2="58.00" y2="92.62" stroke="#000" stroke-width="0.7" />
<line x1="56.50" y1="91.24" x2="58.00" y2="91.24" stroke="#000" stroke-width="0.7" />
<text x="48.50" y="95.00" font-size="10" text-anchor="end" font-weight="normal" fill="#000" >10</text>
<text x="48.70" y="91.60" font-size="7" text-anchor="start" font-weight="normal" fill="#000" >0</text>
<line x1="55.00" y1="117.00" x2="58.00" y2="117.00" stroke="#000" stroke-width="1.2" />
<line x1="56.50" y1="135.87" x2="58.00" y2="135.87" stroke="#000" stroke-width="0.7" />
<line x1="56.50" y1="131.12" x2="58.00" y2="131.12" stroke="#000" stroke-width="0.7" />
<line x1="56.50" y1="127.74" x2="58.00" y2="127.74" stroke="#000" stroke-width="0.7" />
<line x1="56.50" y1="125.13" x2="58.00" y2="125.13" stroke="#000" stroke-width="0.7" />
<line x1="56.50" y1="122.99" x2="58.00" y2="122.99" stroke="#000" stroke-width="0.7" />
<line x1="56.50" y1="121.18" x2="58.00" y2="121.18" stroke="#000" stroke-width="0.7" />
<line x1="56.50" y1="119.62" x2="58.00" y2="119.62" stroke="#000" stroke-width="0.7" />
<line x1="56.50" y1="118.24" x2="58.00" y2="118.24" stroke="#000" stroke-width="0.7" />
<text x="43.70" y="122.00" font-size="10" text-anchor="end" font-weight="normal" fill="#000" >10</text>
<text x="44.00" y="118.60" font-size="7" text-anchor="start" font-weight="normal" fill="#000" >−1</text>
<line x1="55.00" y1="144.00" x2="58.00" y2="144.00" stroke="#000" stroke-width="1.2" />
<line x1="56.50" y1="162.87" x2="58.00" y2="162.87" stroke="#000" stroke-width="0.7" />
<line x1="56.50" y1="158.12" x2="58.00" y2="158.12" stroke="#000" stroke-width="0.7" />
<line x1="56.50" y1="154.74" x2="58.00" y2="154.74" stroke="#000" stroke-width="0.7" />
<line x1="56.50" y1="152.13" x2="58.00" y2="152.13" stroke="#000" stroke-width="0.7" />
<line x1="56.50" y1="149.99" x2="58.00" y2="149.99" stroke="#000" stroke-width="0.7" />
<line x1="56.50" y1="148.18" x2="58.00" y2="148.18" stroke="#000" stroke-width="0.7" />
<line x1="56.50" y1="146.62" x2="58.00" y2="146.62" stroke="#000" stroke-width="0.7" />
<line x1="56.50" y1="145.24" x2="58.00" y2="145.24" stroke="#000" stroke-width="0.7" />
<text x="43.70" y="149.00" font-size="10" text-anchor="end" font-weight="normal" fill="#000" >10</text>
<text x="44.00" y="145.60" font-size="7" text-anchor="start" font-weight="normal" fill="#000" >−2</text>
<line x1="55.00" y1="171.00" x2="58.00" y2="171.00" stroke="#000" stroke-width="1.2" />
<text x="43.70" y="176.00" font-size="10" text-anchor="end" font-weight="normal" fill="#000" >10</text>
<text x="44.00" y="172.60" font-size="7" text-anchor="start" font-weight="normal" fill="#000" >−3</text>
<line x1="57.00" y1="171.00" x2="110.10" y2="171.00" stroke="#000" stroke-width="1.5" />
<line x1="110.10" y1="169.00" x2="110.10" y2="173.00" stroke="#000" stroke-width="1.2" />
<line x1="116.50" y1="171.00" x2="165.60" y2="171.00" stroke="#000" stroke-width="1.5" />
<line x1="165.60" y1="169.00" x2="165.60" y2="173.00" stroke="#000" stroke-width="1.2" />
<line x1="116.50" y1="169.00" x2="116.50" y2="173.00" stroke="#000" stroke-width="1.2" />
<line x1="171.00" y1="171.00" x2="219.75" y2="171.00" stroke="#000" stroke-width="1.5" />
<line x1="219.75" y1="169.00" x2="219.75" y2="173.00" stroke="#000" stroke-width="1.2" />
<line x1="171.00" y1="169.00" x2="171.00" y2="173.00" stroke="#000" stroke-width="1.2" />
<line x1="61.20" y1="171.00" x2="61.20" y2="173.00" stroke="#000" stroke-width="1" />
<text x="64.20" y="181.30" font-size="12" text-anchor="end" transform="rotate(-45 64.20 181.30)">0</text>
<line x1="76.35" y1="171.00" x2="76.35" y2="173.00" stroke="#000" stroke-width="1" />
<text x="79.35" y="181.30" font-size="12" text-anchor="end" transform="rotate(-45 79.35 181.30)">10</text>
<line x1="91.50" y1="171.00" x2="91.50" y2="173.00" stroke="#000" stroke-width="1" />
<text x="94.50" y="181.30" font-size="12" text-anchor="end" transform="rotate(-45 94.50 181.30)">20</text>
<line x1="106.60" y1="171.00" x2="106.60" y2="173.00" stroke="#000" stroke-width="1" />
<text x="109.60" y="181.30" font-size="12" text-anchor="end" transform="rotate(-45 109.60 181.30)">30</text>
<line x1="123.75" y1="171.00" x2="123.75" y2="173.00" stroke="#000" stroke-width="1" />
<text x="126.75" y="181.30" font-size="12" text-anchor="end" transform="rotate(-45 126.75 181.30)">60</text>
<line x1="141.90" y1="171.00" x2="141.90" y2="173.00" stroke="#000" stroke-width="1" />
<text x="144.90" y="181.30" font-size="12" text-anchor="end" transform="rotate(-45 144.90 181.30)">120</text>
<line x1="160.00" y1="171.00" x2="160.00" y2="173.00" stroke="#000" stroke-width="1" />
<text x="163.00" y="181.30" font-size="12" text-anchor="end" transform="rotate(-45 163.00 181.30)">180</text>
<line x1="171.00" y1="171.00" x2="171.00" y2="173.00" stroke="#000" stroke-width="1" />
<text x="174.00" y="181.30" font-size="12" text-anchor="end" transform="rotate(-45 174.00 181.30)">200</text>
<line x1="187.25" y1="171.00" x2="187.25" y2="173.00" stroke="#000" stroke-width="1" />
<text x="190.25" y="181.30" font-size="12" text-anchor="end" transform="rotate(-45 190.25 181.30)">260</text>
<line x1="203.50" y1="171.00" x2="203.50" y2="173.00" stroke="#000" stroke-width="1" />
<text x="206.50" y="181.30" font-size="12" text-anchor="end" transform="rotate(-45 206.50 181.30)">320</text>
<line x1="219.75" y1="171.00" x2="219.75" y2="173.00" stroke="#000" stroke-width="1" />
<text x="222.75" y="181.30" font-size="12" text-anchor="end" transform="rotate(-45 222.75 181.30)">380</text>
<text x="103.00" y="11.40" font-size="10" font-weight="normal" text-anchor="start" textLength="75" lengthAdjust="spacingAndGlyphs" fill="#000">Weak expanders</text>
<text x="92.80" y="211.60" font-size="14" font-weight="normal" text-anchor="start" textLength="75.2" lengthAdjust="spacingAndGlyphs" fill="#000" stroke="#000" stroke-width="0.2">Days post infusion</text>
<text x="26.00" y="116.50" font-size="14" font-weight="normal" text-anchor="start" textLength="41.8" lengthAdjust="spacingAndGlyphs" fill="#000" stroke="#000" stroke-width="0.2" transform="rotate(-90 26.00 116.50)">Axi-cel/μL</text>
<line x1="318.40" y1="57.00" x2="479.60" y2="57.00" stroke="#2a2a2a" stroke-width="1.15" />
<line x1="318.40" y1="8.50" x2="318.40" y2="171.50" stroke="#000" stroke-width="1.5" />
<line x1="315.40" y1="9.00" x2="318.40" y2="9.00" stroke="#000" stroke-width="1.2" />
<line x1="316.90" y1="27.87" x2="318.40" y2="27.87" stroke="#000" stroke-width="0.7" />
<line x1="316.90" y1="23.12" x2="318.40" y2="23.12" stroke="#000" stroke-width="0.7" />
<line x1="316.90" y1="19.74" x2="318.40" y2="19.74" stroke="#000" stroke-width="0.7" />
<line x1="316.90" y1="17.13" x2="318.40" y2="17.13" stroke="#000" stroke-width="0.7" />
<line x1="316.90" y1="14.99" x2="318.40" y2="14.99" stroke="#000" stroke-width="0.7" />
<line x1="316.90" y1="13.18" x2="318.40" y2="13.18" stroke="#000" stroke-width="0.7" />
<line x1="316.90" y1="11.62" x2="318.40" y2="11.62" stroke="#000" stroke-width="0.7" />
<line x1="316.90" y1="10.24" x2="318.40" y2="10.24" stroke="#000" stroke-width="0.7" />
<text x="309.30" y="12.30" font-size="10" text-anchor="end" font-weight="normal" fill="#000" >10</text>
<text x="309.50" y="8.90" font-size="7" text-anchor="start" font-weight="normal" fill="#000" >3</text>
<line x1="315.40" y1="36.00" x2="318.40" y2="36.00" stroke="#000" stroke-width="1.2" />
<line x1="316.90" y1="54.87" x2="318.40" y2="54.87" stroke="#000" stroke-width="0.7" />
<line x1="316.90" y1="50.12" x2="318.40" y2="50.12" stroke="#000" stroke-width="0.7" />
<line x1="316.90" y1="46.74" x2="318.40" y2="46.74" stroke="#000" stroke-width="0.7" />
<line x1="316.90" y1="44.13" x2="318.40" y2="44.13" stroke="#000" stroke-width="0.7" />
<line x1="316.90" y1="41.99" x2="318.40" y2="41.99" stroke="#000" stroke-width="0.7" />
<line x1="316.90" y1="40.18" x2="318.40" y2="40.18" stroke="#000" stroke-width="0.7" />
<line x1="316.90" y1="38.62" x2="318.40" y2="38.62" stroke="#000" stroke-width="0.7" />
<line x1="316.90" y1="37.24" x2="318.40" y2="37.24" stroke="#000" stroke-width="0.7" />
<text x="309.30" y="39.30" font-size="10" text-anchor="end" font-weight="normal" fill="#000" >10</text>
<text x="309.50" y="35.90" font-size="7" text-anchor="start" font-weight="normal" fill="#000" >2</text>
<line x1="315.40" y1="63.00" x2="318.40" y2="63.00" stroke="#000" stroke-width="1.2" />
<line x1="316.90" y1="81.87" x2="318.40" y2="81.87" stroke="#000" stroke-width="0.7" />
<line x1="316.90" y1="77.12" x2="318.40" y2="77.12" stroke="#000" stroke-width="0.7" />
<line x1="316.90" y1="73.74" x2="318.40" y2="73.74" stroke="#000" stroke-width="0.7" />
<line x1="316.90" y1="71.13" x2="318.40" y2="71.13" stroke="#000" stroke-width="0.7" />
<line x1="316.90" y1="68.99" x2="318.40" y2="68.99" stroke="#000" stroke-width="0.7" />
<line x1="316.90" y1="67.18" x2="318.40" y2="67.18" stroke="#000" stroke-width="0.7" />
<line x1="316.90" y1="65.62" x2="318.40" y2="65.62" stroke="#000" stroke-width="0.7" />
<line x1="316.90" y1="64.24" x2="318.40" y2="64.24" stroke="#000" stroke-width="0.7" />
<text x="309.30" y="66.30" font-size="10" text-anchor="end" font-weight="normal" fill="#000" >10</text>
<text x="309.50" y="62.90" font-size="7" text-anchor="start" font-weight="normal" fill="#000" >1</text>
<line x1="315.40" y1="90.00" x2="318.40" y2="90.00" stroke="#000" stroke-width="1.2" />
<line x1="316.90" y1="108.87" x2="318.40" y2="108.87" stroke="#000" stroke-width="0.7" />
<line x1="316.90" y1="104.12" x2="318.40" y2="104.12" stroke="#000" stroke-width="0.7" />
<line x1="316.90" y1="100.74" x2="318.40" y2="100.74" stroke="#000" stroke-width="0.7" />
<line x1="316.90" y1="98.13" x2="318.40" y2="98.13" stroke="#000" stroke-width="0.7" />
<line x1="316.90" y1="95.99" x2="318.40" y2="95.99" stroke="#000" stroke-width="0.7" />
<line x1="316.90" y1="94.18" x2="318.40" y2="94.18" stroke="#000" stroke-width="0.7" />
<line x1="316.90" y1="92.62" x2="318.40" y2="92.62" stroke="#000" stroke-width="0.7" />
<line x1="316.90" y1="91.24" x2="318.40" y2="91.24" stroke="#000" stroke-width="0.7" />
<text x="309.30" y="93.30" font-size="10" text-anchor="end" font-weight="normal" fill="#000" >10</text>
<text x="309.50" y="89.90" font-size="7" text-anchor="start" font-weight="normal" fill="#000" >0</text>
<line x1="315.40" y1="117.00" x2="318.40" y2="117.00" stroke="#000" stroke-width="1.2" />
<line x1="316.90" y1="135.87" x2="318.40" y2="135.87" stroke="#000" stroke-width="0.7" />
<line x1="316.90" y1="131.12" x2="318.40" y2="131.12" stroke="#000" stroke-width="0.7" />
<line x1="316.90" y1="127.74" x2="318.40" y2="127.74" stroke="#000" stroke-width="0.7" />
<line x1="316.90" y1="125.13" x2="318.40" y2="125.13" stroke="#000" stroke-width="0.7" />
<line x1="316.90" y1="122.99" x2="318.40" y2="122.99" stroke="#000" stroke-width="0.7" />
<line x1="316.90" y1="121.18" x2="318.40" y2="121.18" stroke="#000" stroke-width="0.7" />
<line x1="316.90" y1="119.62" x2="318.40" y2="119.62" stroke="#000" stroke-width="0.7" />
<line x1="316.90" y1="118.24" x2="318.40" y2="118.24" stroke="#000" stroke-width="0.7" />
<text x="304.50" y="120.30" font-size="10" text-anchor="end" font-weight="normal" fill="#000" >10</text>
<text x="304.80" y="116.90" font-size="7" text-anchor="start" font-weight="normal" fill="#000" >−1</text>
<line x1="315.40" y1="144.00" x2="318.40" y2="144.00" stroke="#000" stroke-width="1.2" />
<line x1="316.90" y1="162.87" x2="318.40" y2="162.87" stroke="#000" stroke-width="0.7" />
<line x1="316.90" y1="158.12" x2="318.40" y2="158.12" stroke="#000" stroke-width="0.7" />
<line x1="316.90" y1="154.74" x2="318.40" y2="154.74" stroke="#000" stroke-width="0.7" />
<line x1="316.90" y1="152.13" x2="318.40" y2="152.13" stroke="#000" stroke-width="0.7" />
<line x1="316.90" y1="149.99" x2="318.40" y2="149.99" stroke="#000" stroke-width="0.7" />
<line x1="316.90" y1="148.18" x2="318.40" y2="148.18" stroke="#000" stroke-width="0.7" />
<line x1="316.90" y1="146.62" x2="318.40" y2="146.62" stroke="#000" stroke-width="0.7" />
<line x1="316.90" y1="145.24" x2="318.40" y2="145.24" stroke="#000" stroke-width="0.7" />
<text x="304.50" y="147.30" font-size="10" text-anchor="end" font-weight="normal" fill="#000" >10</text>
<text x="304.80" y="143.90" font-size="7" text-anchor="start" font-weight="normal" fill="#000" >−2</text>
<line x1="315.40" y1="171.00" x2="318.40" y2="171.00" stroke="#000" stroke-width="1.2" />
<text x="304.50" y="174.30" font-size="10" text-anchor="end" font-weight="normal" fill="#000" >10</text>
<text x="304.80" y="170.90" font-size="7" text-anchor="start" font-weight="normal" fill="#000" >−3</text>
<line x1="317.40" y1="171.00" x2="370.50" y2="171.00" stroke="#000" stroke-width="1.5" />
<line x1="370.50" y1="169.00" x2="370.50" y2="173.00" stroke="#000" stroke-width="1.2" />
<line x1="376.90" y1="171.00" x2="426.00" y2="171.00" stroke="#000" stroke-width="1.5" />
<line x1="426.00" y1="169.00" x2="426.00" y2="173.00" stroke="#000" stroke-width="1.2" />
<line x1="376.90" y1="169.00" x2="376.90" y2="173.00" stroke="#000" stroke-width="1.2" />
<line x1="431.40" y1="171.00" x2="480.15" y2="171.00" stroke="#000" stroke-width="1.5" />
<line x1="480.15" y1="169.00" x2="480.15" y2="173.00" stroke="#000" stroke-width="1.2" />
<line x1="431.40" y1="169.00" x2="431.40" y2="173.00" stroke="#000" stroke-width="1.2" />
<line x1="321.60" y1="171.00" x2="321.60" y2="173.00" stroke="#000" stroke-width="1" />
<text x="324.60" y="181.30" font-size="12" text-anchor="end" transform="rotate(-45 324.60 181.30)">0</text>
<line x1="336.75" y1="171.00" x2="336.75" y2="173.00" stroke="#000" stroke-width="1" />
<text x="339.75" y="181.30" font-size="12" text-anchor="end" transform="rotate(-45 339.75 181.30)">10</text>
<line x1="351.90" y1="171.00" x2="351.90" y2="173.00" stroke="#000" stroke-width="1" />
<text x="354.90" y="181.30" font-size="12" text-anchor="end" transform="rotate(-45 354.90 181.30)">20</text>
<line x1="367.00" y1="171.00" x2="367.00" y2="173.00" stroke="#000" stroke-width="1" />
<text x="370.00" y="181.30" font-size="12" text-anchor="end" transform="rotate(-45 370.00 181.30)">30</text>
<line x1="384.15" y1="171.00" x2="384.15" y2="173.00" stroke="#000" stroke-width="1" />
<text x="387.15" y="181.30" font-size="12" text-anchor="end" transform="rotate(-45 387.15 181.30)">60</text>
<line x1="402.30" y1="171.00" x2="402.30" y2="173.00" stroke="#000" stroke-width="1" />
<text x="405.30" y="181.30" font-size="12" text-anchor="end" transform="rotate(-45 405.30 181.30)">120</text>
<line x1="420.40" y1="171.00" x2="420.40" y2="173.00" stroke="#000" stroke-width="1" />
<text x="423.40" y="181.30" font-size="12" text-anchor="end" transform="rotate(-45 423.40 181.30)">180</text>
<line x1="431.40" y1="171.00" x2="431.40" y2="173.00" stroke="#000" stroke-width="1" />
<text x="434.40" y="181.30" font-size="12" text-anchor="end" transform="rotate(-45 434.40 181.30)">200</text>
<line x1="447.65" y1="171.00" x2="447.65" y2="173.00" stroke="#000" stroke-width="1" />
<text x="450.65" y="181.30" font-size="12" text-anchor="end" transform="rotate(-45 450.65 181.30)">260</text>
<line x1="463.90" y1="171.00" x2="463.90" y2="173.00" stroke="#000" stroke-width="1" />
<text x="466.90" y="181.30" font-size="12" text-anchor="end" transform="rotate(-45 466.90 181.30)">320</text>
<line x1="480.15" y1="171.00" x2="480.15" y2="173.00" stroke="#000" stroke-width="1" />
<text x="483.15" y="181.30" font-size="12" text-anchor="end" transform="rotate(-45 483.15 181.30)">380</text>
<text x="356.40" y="11.40" font-size="10" font-weight="normal" text-anchor="start" textLength="80.60000000000002" lengthAdjust="spacingAndGlyphs" fill="#000">Strong expanders</text>
<text x="353.20" y="210.80" font-size="14" font-weight="normal" text-anchor="start" textLength="75.2" lengthAdjust="spacingAndGlyphs" fill="#000" stroke="#000" stroke-width="0.2">Days post infusion</text>
<text x="286.40" y="116.50" font-size="14" font-weight="normal" text-anchor="start" textLength="41.8" lengthAdjust="spacingAndGlyphs" fill="#000" stroke="#000" stroke-width="0.2" transform="rotate(-90 286.40 116.50)">Axi-cel/μL</text>
<line x1="71.70" y1="238.00" x2="71.70" y2="330.60" stroke="#000" stroke-width="1.8" />
<line x1="71.70" y1="337.00" x2="71.70" y2="387.00" stroke="#000" stroke-width="1.8" />
<line x1="69.40" y1="330.30" x2="74.00" y2="330.30" stroke="#000" stroke-width="1.2" />
<line x1="69.80" y1="337.40" x2="73.80" y2="337.40" stroke="#000" stroke-width="1.2" />
<line x1="68.70" y1="238.10" x2="71.70" y2="238.10" stroke="#000" stroke-width="1.2" />
<text x="66.60" y="241.95" font-size="10.8" text-anchor="end" font-weight="normal" fill="#000" >150</text>
<line x1="68.70" y1="272.80" x2="71.70" y2="272.80" stroke="#000" stroke-width="1.2" />
<text x="66.60" y="276.65" font-size="10.8" text-anchor="end" font-weight="normal" fill="#000" >100</text>
<line x1="68.70" y1="307.50" x2="71.70" y2="307.50" stroke="#000" stroke-width="1.2" />
<text x="66.60" y="311.35" font-size="10.8" text-anchor="end" font-weight="normal" fill="#000" >50</text>
<line x1="68.70" y1="337.52" x2="71.70" y2="337.52" stroke="#000" stroke-width="1.2" />
<text x="66.60" y="341.38" font-size="10.8" text-anchor="end" font-weight="normal" fill="#000" >15</text>
<line x1="68.70" y1="353.75" x2="71.70" y2="353.75" stroke="#000" stroke-width="1.2" />
<text x="66.60" y="357.60" font-size="10.8" text-anchor="end" font-weight="normal" fill="#000" >10</text>
<line x1="68.70" y1="369.97" x2="71.70" y2="369.97" stroke="#000" stroke-width="1.2" />
<text x="66.60" y="373.82" font-size="10.8" text-anchor="end" font-weight="normal" fill="#000" >5</text>
<line x1="68.70" y1="386.20" x2="71.70" y2="386.20" stroke="#000" stroke-width="1.2" />
<text x="66.60" y="390.05" font-size="10.8" text-anchor="end" font-weight="normal" fill="#000" >0</text>
<line x1="71.70" y1="386.20" x2="482.50" y2="386.20" stroke="#000" stroke-width="1.5" />
<line x1="268.75" y1="237.50" x2="268.75" y2="386.00" stroke="#333" stroke-width="1" />
<line x1="84.40" y1="386.20" x2="84.40" y2="389.50" stroke="#000" stroke-width="1" />
<text x="84.40" y="402.30" font-size="10.8" text-anchor="middle" font-weight="normal" fill="#000" >18</text>
<rect x="78.15" y="386.60" width="12.50" height="-0.40" fill="#000" stroke="none" stroke-width="1"/>
<line x1="103.75" y1="386.20" x2="103.75" y2="389.50" stroke="#000" stroke-width="1" />
<text x="103.75" y="402.30" font-size="10.8" text-anchor="middle" font-weight="normal" fill="#000" >01</text>
<rect x="97.50" y="385.10" width="12.50" height="1.10" fill="#000" stroke="none" stroke-width="1"/>
<line x1="123.10" y1="386.20" x2="123.10" y2="389.50" stroke="#000" stroke-width="1" />
<text x="123.10" y="402.30" font-size="10.8" text-anchor="middle" font-weight="normal" fill="#000" >07</text>
<rect x="116.85" y="378.60" width="12.50" height="7.60" fill="#000" stroke="none" stroke-width="1"/>
<line x1="142.45" y1="386.20" x2="142.45" y2="389.50" stroke="#000" stroke-width="1" />
<text x="142.45" y="402.30" font-size="10.8" text-anchor="middle" font-weight="normal" fill="#000" >11</text>
<rect x="136.20" y="377.10" width="12.50" height="9.10" fill="#000" stroke="none" stroke-width="1"/>
<line x1="161.80" y1="386.20" x2="161.80" y2="389.50" stroke="#000" stroke-width="1" />
<text x="161.80" y="402.30" font-size="10.8" text-anchor="middle" font-weight="normal" fill="#000" >03</text>
<rect x="155.55" y="377.10" width="12.50" height="9.10" fill="#000" stroke="none" stroke-width="1"/>
<line x1="181.15" y1="386.20" x2="181.15" y2="389.50" stroke="#000" stroke-width="1" />
<text x="181.15" y="402.30" font-size="10.8" text-anchor="middle" font-weight="normal" fill="#000" >19</text>
<rect x="174.90" y="370.60" width="12.50" height="15.60" fill="#000" stroke="none" stroke-width="1"/>
<line x1="200.50" y1="386.20" x2="200.50" y2="389.50" stroke="#000" stroke-width="1" />
<text x="200.50" y="402.30" font-size="10.8" text-anchor="middle" font-weight="normal" fill="#000" >04</text>
<rect x="194.25" y="367.35" width="12.50" height="18.85" fill="#000" stroke="none" stroke-width="1"/>
<line x1="219.85" y1="386.20" x2="219.85" y2="389.50" stroke="#000" stroke-width="1" />
<text x="219.85" y="402.30" font-size="10.8" text-anchor="middle" font-weight="normal" fill="#000" >13</text>
<rect x="213.60" y="366.35" width="12.50" height="19.85" fill="#a3a3a3" stroke="none" stroke-width="1"/>
<line x1="214.70" y1="366.35" x2="214.70" y2="386.20" stroke="#dc1a82" stroke-width="2.2" />
<line x1="225.00" y1="366.35" x2="225.00" y2="386.20" stroke="#dc1a82" stroke-width="2.2" />
<line x1="213.60" y1="367.45" x2="226.10" y2="367.45" stroke="#dc1a82" stroke-width="2.2" />
<line x1="239.20" y1="386.20" x2="239.20" y2="389.50" stroke="#000" stroke-width="1" />
<text x="239.20" y="402.30" font-size="10.8" text-anchor="middle" font-weight="normal" fill="#000" >05</text>
<rect x="232.95" y="354.35" width="12.50" height="31.85" fill="#000" stroke="none" stroke-width="1"/>
<line x1="234.05" y1="354.35" x2="234.05" y2="386.20" stroke="#3aaa4a" stroke-width="2.2" />
<line x1="244.35" y1="354.35" x2="244.35" y2="386.20" stroke="#3aaa4a" stroke-width="2.2" />
<line x1="232.95" y1="355.45" x2="245.45" y2="355.45" stroke="#3aaa4a" stroke-width="2.2" />
<line x1="258.55" y1="386.20" x2="258.55" y2="389.50" stroke="#000" stroke-width="1" />
<text x="258.55" y="402.30" font-size="10.8" text-anchor="middle" font-weight="normal" fill="#000" >10</text>
<rect x="252.30" y="346.10" width="12.50" height="40.10" fill="#a3a3a3" stroke="none" stroke-width="1"/>
<line x1="253.40" y1="346.10" x2="253.40" y2="386.20" stroke="#8a88bb" stroke-width="2.2" />
<line x1="263.70" y1="346.10" x2="263.70" y2="386.20" stroke="#8a88bb" stroke-width="2.2" />
<line x1="252.30" y1="347.20" x2="264.80" y2="347.20" stroke="#8a88bb" stroke-width="2.2" />
<line x1="277.90" y1="386.20" x2="277.90" y2="389.50" stroke="#000" stroke-width="1" />
<text x="277.90" y="402.30" font-size="10.8" text-anchor="middle" font-weight="normal" fill="#000" >09</text>
<line x1="271.65" y1="330.00" x2="284.15" y2="330.00" stroke="#4cb050" stroke-width="1.1" />
<rect x="271.65" y="337.30" width="12.50" height="48.90" fill="#fff" stroke="none" stroke-width="1"/>
<line x1="272.65" y1="337.30" x2="272.65" y2="386.20" stroke="#4cb050" stroke-width="2.0" />
<line x1="283.15" y1="337.30" x2="283.15" y2="386.20" stroke="#4cb050" stroke-width="2.0" />
<line x1="297.25" y1="386.20" x2="297.25" y2="389.50" stroke="#000" stroke-width="1" />
<text x="297.25" y="402.30" font-size="10.8" text-anchor="middle" font-weight="normal" fill="#000" >08</text>
<rect x="291.00" y="327.50" width="12.50" height="3.00" fill="#000" stroke="none" stroke-width="1"/>
<rect x="291.00" y="337.30" width="12.50" height="48.90" fill="#000" stroke="none" stroke-width="1"/>
<line x1="316.60" y1="386.20" x2="316.60" y2="389.50" stroke="#000" stroke-width="1" />
<text x="316.60" y="402.30" font-size="10.8" text-anchor="middle" font-weight="normal" fill="#000" >06</text>
<rect x="310.35" y="327.50" width="12.50" height="3.00" fill="#fff" stroke="none" stroke-width="1"/>
<line x1="311.35" y1="327.50" x2="311.35" y2="330.50" stroke="#f0962a" stroke-width="2.0" />
<line x1="321.85" y1="327.50" x2="321.85" y2="330.50" stroke="#f0962a" stroke-width="2.0" />
<line x1="310.35" y1="328.50" x2="322.85" y2="328.50" stroke="#f0962a" stroke-width="2.0" />
<rect x="310.35" y="337.30" width="12.50" height="48.90" fill="#fff" stroke="none" stroke-width="1"/>
<line x1="311.35" y1="337.30" x2="311.35" y2="386.20" stroke="#f0962a" stroke-width="2.0" />
<line x1="321.85" y1="337.30" x2="321.85" y2="386.20" stroke="#f0962a" stroke-width="2.0" />
<line x1="335.95" y1="386.20" x2="335.95" y2="389.50" stroke="#000" stroke-width="1" />
<text x="335.95" y="402.30" font-size="10.8" text-anchor="middle" font-weight="normal" fill="#000" >12</text>
<rect x="329.70" y="325.00" width="12.50" height="5.50" fill="#fff" stroke="none" stroke-width="1"/>
<line x1="330.70" y1="325.00" x2="330.70" y2="330.50" stroke="#1f5d9a" stroke-width="2.0" />
<line x1="341.20" y1="325.00" x2="341.20" y2="330.50" stroke="#1f5d9a" stroke-width="2.0" />
<line x1="329.70" y1="326.00" x2="342.20" y2="326.00" stroke="#1f5d9a" stroke-width="2.0" />
<rect x="329.70" y="337.30" width="12.50" height="48.90" fill="#fff" stroke="none" stroke-width="1"/>
<line x1="330.70" y1="337.30" x2="330.70" y2="386.20" stroke="#1f5d9a" stroke-width="2.0" />
<line x1="341.20" y1="337.30" x2="341.20" y2="386.20" stroke="#1f5d9a" stroke-width="2.0" />
<line x1="355.30" y1="386.20" x2="355.30" y2="389.50" stroke="#000" stroke-width="1" />
<text x="355.30" y="402.30" font-size="10.8" text-anchor="middle" font-weight="normal" fill="#000" >21</text>
<rect x="349.05" y="323.00" width="12.50" height="7.50" fill="#fff" stroke="none" stroke-width="1"/>
<line x1="349.65" y1="323.00" x2="349.65" y2="330.50" stroke="#222" stroke-width="1.2" />
<line x1="360.95" y1="323.00" x2="360.95" y2="330.50" stroke="#222" stroke-width="1.2" />
<line x1="349.05" y1="323.60" x2="361.55" y2="323.60" stroke="#222" stroke-width="1.2" />
<rect x="349.05" y="337.30" width="12.50" height="48.90" fill="#fff" stroke="none" stroke-width="1"/>
<line x1="349.65" y1="337.30" x2="349.65" y2="386.20" stroke="#222" stroke-width="1.2" />
<line x1="360.95" y1="337.30" x2="360.95" y2="386.20" stroke="#222" stroke-width="1.2" />
<line x1="374.65" y1="386.20" x2="374.65" y2="389.50" stroke="#000" stroke-width="1" />
<text x="374.65" y="402.30" font-size="10.8" text-anchor="middle" font-weight="normal" fill="#000" >15</text>
<rect x="368.40" y="320.00" width="12.50" height="10.50" fill="#fff" stroke="none" stroke-width="1"/>
<line x1="369.00" y1="320.00" x2="369.00" y2="330.50" stroke="#222" stroke-width="1.2" />
<line x1="380.30" y1="320.00" x2="380.30" y2="330.50" stroke="#222" stroke-width="1.2" />
<line x1="368.40" y1="320.60" x2="380.90" y2="320.60" stroke="#222" stroke-width="1.2" />
<rect x="368.40" y="337.30" width="12.50" height="48.90" fill="#fff" stroke="none" stroke-width="1"/>
<line x1="369.00" y1="337.30" x2="369.00" y2="386.20" stroke="#222" stroke-width="1.2" />
<line x1="380.30" y1="337.30" x2="380.30" y2="386.20" stroke="#222" stroke-width="1.2" />
<line x1="394.00" y1="386.20" x2="394.00" y2="389.50" stroke="#000" stroke-width="1" />
<text x="394.00" y="402.30" font-size="10.8" text-anchor="middle" font-weight="normal" fill="#000" >02</text>
<rect x="387.75" y="313.50" width="12.50" height="17.00" fill="#000" stroke="none" stroke-width="1"/>
<rect x="387.75" y="337.30" width="12.50" height="48.90" fill="#000" stroke="none" stroke-width="1"/>
<line x1="413.35" y1="386.20" x2="413.35" y2="389.50" stroke="#000" stroke-width="1" />
<text x="413.35" y="402.30" font-size="10.8" text-anchor="middle" font-weight="normal" fill="#000" >20</text>
<rect x="407.10" y="310.75" width="12.50" height="19.75" fill="#a3a3a3" stroke="none" stroke-width="1"/>
<line x1="408.20" y1="310.75" x2="408.20" y2="330.50" stroke="#8a88bb" stroke-width="2.2" />
<line x1="418.50" y1="310.75" x2="418.50" y2="330.50" stroke="#8a88bb" stroke-width="2.2" />
<line x1="407.10" y1="311.85" x2="419.60" y2="311.85" stroke="#8a88bb" stroke-width="2.2" />
<rect x="407.10" y="337.30" width="12.50" height="48.90" fill="#a3a3a3" stroke="none" stroke-width="1"/>
<line x1="408.20" y1="337.30" x2="408.20" y2="386.20" stroke="#8a88bb" stroke-width="2.2" />
<line x1="418.50" y1="337.30" x2="418.50" y2="386.20" stroke="#8a88bb" stroke-width="2.2" />
<line x1="432.70" y1="386.20" x2="432.70" y2="389.50" stroke="#000" stroke-width="1" />
<text x="432.70" y="402.30" font-size="10.8" text-anchor="middle" font-weight="normal" fill="#000" >14</text>
<rect x="426.45" y="289.25" width="12.50" height="41.25" fill="#fff" stroke="none" stroke-width="1"/>
<line x1="427.05" y1="289.25" x2="427.05" y2="330.50" stroke="#222" stroke-width="1.2" />
<line x1="438.35" y1="289.25" x2="438.35" y2="330.50" stroke="#222" stroke-width="1.2" />
<line x1="426.45" y1="289.85" x2="438.95" y2="289.85" stroke="#222" stroke-width="1.2" />
<rect x="426.45" y="337.30" width="12.50" height="48.90" fill="#fff" stroke="none" stroke-width="1"/>
<line x1="427.05" y1="337.30" x2="427.05" y2="386.20" stroke="#222" stroke-width="1.2" />
<line x1="438.35" y1="337.30" x2="438.35" y2="386.20" stroke="#222" stroke-width="1.2" />
<line x1="452.05" y1="386.20" x2="452.05" y2="389.50" stroke="#000" stroke-width="1" />
<text x="452.05" y="402.30" font-size="10.8" text-anchor="middle" font-weight="normal" fill="#000" >17</text>
<rect x="445.80" y="263.25" width="12.50" height="67.25" fill="#fff" stroke="none" stroke-width="1"/>
<line x1="446.40" y1="263.25" x2="446.40" y2="330.50" stroke="#222" stroke-width="1.2" />
<line x1="457.70" y1="263.25" x2="457.70" y2="330.50" stroke="#222" stroke-width="1.2" />
<line x1="445.80" y1="263.85" x2="458.30" y2="263.85" stroke="#222" stroke-width="1.2" />
<rect x="445.80" y="337.30" width="12.50" height="48.90" fill="#fff" stroke="none" stroke-width="1"/>
<line x1="446.40" y1="337.30" x2="446.40" y2="386.20" stroke="#222" stroke-width="1.2" />
<line x1="457.70" y1="337.30" x2="457.70" y2="386.20" stroke="#222" stroke-width="1.2" />
<line x1="471.40" y1="386.20" x2="471.40" y2="389.50" stroke="#000" stroke-width="1" />
<text x="471.40" y="402.30" font-size="10.8" text-anchor="middle" font-weight="normal" fill="#000" >16</text>
<rect x="465.15" y="251.25" width="12.50" height="79.25" fill="#fff" stroke="none" stroke-width="1"/>
<line x1="466.25" y1="251.25" x2="466.25" y2="330.50" stroke="#d6228a" stroke-width="2.2" />
<line x1="476.55" y1="251.25" x2="476.55" y2="330.50" stroke="#d6228a" stroke-width="2.2" />
<line x1="465.15" y1="252.35" x2="477.65" y2="252.35" stroke="#d6228a" stroke-width="2.2" />
<rect x="465.15" y="337.30" width="12.50" height="48.90" fill="#fff" stroke="none" stroke-width="1"/>
<line x1="466.25" y1="337.30" x2="466.25" y2="386.20" stroke="#d6228a" stroke-width="2.2" />
<line x1="476.55" y1="337.30" x2="476.55" y2="386.20" stroke="#d6228a" stroke-width="2.2" />
<text x="276.60" y="324.50" font-size="9" text-anchor="middle" font-weight="normal" fill="#000" >X</text>
<text x="87.60" y="245.00" font-size="10" text-anchor="start" font-weight="normal" fill="#000" >X Median peak</text>
<rect x="87.00" y="257.00" width="7.40" height="6.80" fill="#000" stroke="none" stroke-width="1"/>
<text x="99.40" y="264.40" font-size="10" text-anchor="start" font-weight="normal" fill="#000" >Deceased</text>
<rect x="87.00" y="275.80" width="7.40" height="7.00" fill="#a8a8a8" stroke="none" stroke-width="1"/>
<text x="99.40" y="283.60" font-size="10" text-anchor="start" font-weight="normal" fill="#000" >Relapsed/PD</text>
<rect x="87.00" y="294.50" width="7.20" height="7.00" fill="#fff" stroke="#000" stroke-width="1.8"/>
<text x="99.40" y="302.00" font-size="10" text-anchor="start" font-weight="normal" fill="#000" >Alive</text>
<text x="254.80" y="419.00" font-size="13" font-weight="normal" text-anchor="start" textLength="39.2" lengthAdjust="spacingAndGlyphs" fill="#000" stroke="#000" stroke-width="0.2">Patient #</text>
<text x="42.20" y="348.50" font-size="14" font-weight="normal" text-anchor="start" textLength="64.3" lengthAdjust="spacingAndGlyphs" fill="#000" stroke="#000" stroke-width="0.2" transform="rotate(-90 42.20 348.50)">Peak axi-cel/μL</text>
<line x1="58.00" y1="440.50" x2="58.00" y2="564.85" stroke="#000" stroke-width="1.7" />
<line x1="58.00" y1="446.00" x2="60.00" y2="446.00" stroke="#000" stroke-width="1.1" />
<text x="53.10" y="449.85" font-size="10.8" text-anchor="end" font-weight="normal" fill="#000" >1.0</text>
<line x1="58.00" y1="468.44" x2="60.00" y2="468.44" stroke="#000" stroke-width="1.1" />
<text x="53.10" y="472.29" font-size="10.8" text-anchor="end" font-weight="normal" fill="#000" >0.8</text>
<line x1="58.00" y1="490.88" x2="60.00" y2="490.88" stroke="#000" stroke-width="1.1" />
<text x="53.10" y="494.73" font-size="10.8" text-anchor="end" font-weight="normal" fill="#000" >0.6</text>
<line x1="58.00" y1="513.32" x2="60.00" y2="513.32" stroke="#000" stroke-width="1.1" />
<text x="53.10" y="517.17" font-size="10.8" text-anchor="end" font-weight="normal" fill="#000" >0.4</text>
<line x1="58.00" y1="535.76" x2="60.00" y2="535.76" stroke="#000" stroke-width="1.1" />
<text x="53.10" y="539.61" font-size="10.8" text-anchor="end" font-weight="normal" fill="#000" >0.2</text>
<line x1="58.00" y1="558.20" x2="60.00" y2="558.20" stroke="#000" stroke-width="1.1" />
<text x="53.10" y="562.05" font-size="10.8" text-anchor="end" font-weight="normal" fill="#000" >0.0</text>
<line x1="58.00" y1="564.00" x2="240.50" y2="564.00" stroke="#000" stroke-width="1.7" />
<line x1="67.40" y1="561.80" x2="67.40" y2="566.20" stroke="#000" stroke-width="1.1" />
<text x="66.80" y="578.20" font-size="10.7" text-anchor="middle" font-weight="normal" fill="#000" >0</text>
<line x1="101.96" y1="561.80" x2="101.96" y2="566.20" stroke="#000" stroke-width="1.1" />
<text x="100.50" y="578.20" font-size="10.7" text-anchor="middle" font-weight="normal" fill="#000" >100</text>
<line x1="136.52" y1="561.80" x2="136.52" y2="566.20" stroke="#000" stroke-width="1.1" />
<text x="132.50" y="578.20" font-size="10.7" text-anchor="middle" font-weight="normal" fill="#000" >200</text>
<line x1="171.08" y1="561.80" x2="171.08" y2="566.20" stroke="#000" stroke-width="1.1" />
<text x="165.00" y="578.20" font-size="10.7" text-anchor="middle" font-weight="normal" fill="#000" >300</text>
<line x1="205.64" y1="561.80" x2="205.64" y2="566.20" stroke="#000" stroke-width="1.1" />
<text x="198.30" y="578.20" font-size="10.7" text-anchor="middle" font-weight="normal" fill="#000" >400</text>
<line x1="240.20" y1="561.80" x2="240.20" y2="566.20" stroke="#000" stroke-width="1.1" />
<text x="231.00" y="578.20" font-size="10.7" text-anchor="middle" font-weight="normal" fill="#000" >500</text>
<text x="100.00" y="595.20" font-size="14" font-weight="normal" text-anchor="start" textLength="75.1" lengthAdjust="spacingAndGlyphs" fill="#000" stroke="#000" stroke-width="0.2">Days post infusion</text>
<text x="29.10" y="529.20" font-size="14" font-weight="normal" text-anchor="start" textLength="43.3" lengthAdjust="spacingAndGlyphs" fill="#000" stroke="#000" stroke-width="0.2" transform="rotate(-90 29.10 529.20)">Probability</text>
<text x="147.30" y="450.20" font-size="10.7" text-anchor="start" font-weight="normal" fill="#000" >OS</text>
<polyline points="68.00,446.30 75.00,446.30 75.00,451.75 87.50,451.75 87.50,462.00 89.25,462.00 89.25,467.00 90.75,467.00 90.75,473.00 100.00,473.00 100.00,478.75 108.25,478.75 108.25,484.50 118.25,484.50 118.25,491.25 125.50,491.25 125.50,497.30 171.50,497.30 171.50,504.30 226.00,504.30" fill="none" stroke="#bd3352" stroke-width="1.2" />
<line x1="165.60" y1="495.50" x2="165.60" y2="499.10" stroke="#bd3352" stroke-width="1" />
<line x1="191.00" y1="502.50" x2="191.00" y2="506.10" stroke="#bd3352" stroke-width="1" />
<line x1="194.40" y1="502.50" x2="194.40" y2="506.10" stroke="#bd3352" stroke-width="1" />
<line x1="199.00" y1="502.50" x2="199.00" y2="506.10" stroke="#bd3352" stroke-width="1" />
<line x1="213.00" y1="502.50" x2="213.00" y2="506.10" stroke="#bd3352" stroke-width="1" />
<line x1="215.00" y1="502.50" x2="215.00" y2="506.10" stroke="#bd3352" stroke-width="1" />
<line x1="226.00" y1="502.50" x2="226.00" y2="506.10" stroke="#bd3352" stroke-width="1" />
<line x1="336.00" y1="440.00" x2="336.00" y2="564.85" stroke="#000" stroke-width="1.7" />
<line x1="336.00" y1="445.50" x2="338.00" y2="445.50" stroke="#000" stroke-width="1.1" />
<text x="331.10" y="449.35" font-size="10.8" text-anchor="end" font-weight="normal" fill="#000" >1.0</text>
<line x1="336.00" y1="468.04" x2="338.00" y2="468.04" stroke="#000" stroke-width="1.1" />
<text x="331.10" y="471.89" font-size="10.8" text-anchor="end" font-weight="normal" fill="#000" >0.8</text>
<line x1="336.00" y1="490.58" x2="338.00" y2="490.58" stroke="#000" stroke-width="1.1" />
<text x="331.10" y="494.43" font-size="10.8" text-anchor="end" font-weight="normal" fill="#000" >0.6</text>
<line x1="336.00" y1="513.12" x2="338.00" y2="513.12" stroke="#000" stroke-width="1.1" />
<text x="331.10" y="516.97" font-size="10.8" text-anchor="end" font-weight="normal" fill="#000" >0.4</text>
<line x1="336.00" y1="535.66" x2="338.00" y2="535.66" stroke="#000" stroke-width="1.1" />
<text x="331.10" y="539.51" font-size="10.8" text-anchor="end" font-weight="normal" fill="#000" >0.2</text>
<line x1="336.00" y1="558.20" x2="338.00" y2="558.20" stroke="#000" stroke-width="1.1" />
<text x="331.10" y="562.05" font-size="10.8" text-anchor="end" font-weight="normal" fill="#000" >0.0</text>
<line x1="336.00" y1="564.00" x2="518.50" y2="564.00" stroke="#000" stroke-width="1.7" />
<line x1="345.40" y1="561.80" x2="345.40" y2="566.20" stroke="#000" stroke-width="1.1" />
<text x="344.80" y="578.20" font-size="10.7" text-anchor="middle" font-weight="normal" fill="#000" >0</text>
<line x1="379.96" y1="561.80" x2="379.96" y2="566.20" stroke="#000" stroke-width="1.1" />
<text x="378.50" y="578.20" font-size="10.7" text-anchor="middle" font-weight="normal" fill="#000" >100</text>
<line x1="414.52" y1="561.80" x2="414.52" y2="566.20" stroke="#000" stroke-width="1.1" />
<text x="410.50" y="578.20" font-size="10.7" text-anchor="middle" font-weight="normal" fill="#000" >200</text>
<line x1="449.08" y1="561.80" x2="449.08" y2="566.20" stroke="#000" stroke-width="1.1" />
<text x="443.00" y="578.20" font-size="10.7" text-anchor="middle" font-weight="normal" fill="#000" >300</text>
<line x1="483.64" y1="561.80" x2="483.64" y2="566.20" stroke="#000" stroke-width="1.1" />
<text x="476.30" y="578.20" font-size="10.7" text-anchor="middle" font-weight="normal" fill="#000" >400</text>
<line x1="518.20" y1="561.80" x2="518.20" y2="566.20" stroke="#000" stroke-width="1.1" />
<text x="509.00" y="578.20" font-size="10.7" text-anchor="middle" font-weight="normal" fill="#000" >500</text>
<text x="375.30" y="595.20" font-size="14" font-weight="normal" text-anchor="start" textLength="75.4" lengthAdjust="spacingAndGlyphs" fill="#000" stroke="#000" stroke-width="0.2">Days post infusion</text>
<text x="306.80" y="528.70" font-size="14" font-weight="normal" text-anchor="start" textLength="43.3" lengthAdjust="spacingAndGlyphs" fill="#000" stroke="#000" stroke-width="0.2" transform="rotate(-90 306.80 528.70)">Probability</text>
<text x="417.30" y="450.20" font-size="10.5" text-anchor="start" font-weight="normal" fill="#000" >PFS</text>
<polyline points="345.50,445.50 349.50,445.50 349.50,450.00 352.00,450.00 352.00,455.00 355.75,455.00 355.75,460.50 360.00,460.50 360.00,466.25 362.50,466.25 362.50,471.25 367.00,471.25 367.00,475.00 368.00,475.00 368.00,493.75 372.50,493.75 372.50,498.00 378.75,498.00 378.75,504.50 385.50,504.50 385.50,510.50 401.75,510.50 401.75,516.50 504.00,516.50" fill="none" stroke="#bd3352" stroke-width="1.2" />
<line x1="444.00" y1="514.70" x2="444.00" y2="518.30" stroke="#bd3352" stroke-width="1" />
<line x1="469.00" y1="514.70" x2="469.00" y2="518.30" stroke="#bd3352" stroke-width="1" />
<line x1="473.00" y1="514.70" x2="473.00" y2="518.30" stroke="#bd3352" stroke-width="1" />
<line x1="477.60" y1="514.70" x2="477.60" y2="518.30" stroke="#bd3352" stroke-width="1" />
<line x1="492.00" y1="514.70" x2="492.00" y2="518.30" stroke="#bd3352" stroke-width="1" />
<line x1="494.00" y1="514.70" x2="494.00" y2="518.30" stroke="#bd3352" stroke-width="1" />
<line x1="503.40" y1="514.70" x2="503.40" y2="518.30" stroke="#bd3352" stroke-width="1" />
<line x1="58.00" y1="620.25" x2="58.00" y2="745.25" stroke="#000" stroke-width="1.7" />
<line x1="58.00" y1="625.75" x2="60.00" y2="625.75" stroke="#000" stroke-width="1.1" />
<text x="53.10" y="629.60" font-size="10.8" text-anchor="end" font-weight="normal" fill="#000" >1.0</text>
<line x1="58.00" y1="648.25" x2="60.00" y2="648.25" stroke="#000" stroke-width="1.1" />
<text x="53.10" y="652.10" font-size="10.8" text-anchor="end" font-weight="normal" fill="#000" >0.8</text>
<line x1="58.00" y1="670.75" x2="60.00" y2="670.75" stroke="#000" stroke-width="1.1" />
<text x="53.10" y="674.60" font-size="10.8" text-anchor="end" font-weight="normal" fill="#000" >0.6</text>
<line x1="58.00" y1="693.25" x2="60.00" y2="693.25" stroke="#000" stroke-width="1.1" />
<text x="53.10" y="697.10" font-size="10.8" text-anchor="end" font-weight="normal" fill="#000" >0.4</text>
<line x1="58.00" y1="715.75" x2="60.00" y2="715.75" stroke="#000" stroke-width="1.1" />
<text x="53.10" y="719.60" font-size="10.8" text-anchor="end" font-weight="normal" fill="#000" >0.2</text>
<line x1="58.00" y1="738.25" x2="60.00" y2="738.25" stroke="#000" stroke-width="1.1" />
<text x="53.10" y="742.10" font-size="10.8" text-anchor="end" font-weight="normal" fill="#000" >0.0</text>
<line x1="58.00" y1="744.40" x2="240.50" y2="744.40" stroke="#000" stroke-width="1.7" />
<text x="66.80" y="758.60" font-size="10.7" text-anchor="middle" font-weight="normal" fill="#000" >0</text>
<text x="100.50" y="758.60" font-size="10.7" text-anchor="middle" font-weight="normal" fill="#000" >100</text>
<text x="132.50" y="758.60" font-size="10.7" text-anchor="middle" font-weight="normal" fill="#000" >200</text>
<text x="165.00" y="758.60" font-size="10.7" text-anchor="middle" font-weight="normal" fill="#000" >300</text>
<text x="198.30" y="758.60" font-size="10.7" text-anchor="middle" font-weight="normal" fill="#000" >400</text>
<text x="231.00" y="758.60" font-size="10.7" text-anchor="middle" font-weight="normal" fill="#000" >500</text>
<text x="100.70" y="776.40" font-size="14" font-weight="normal" text-anchor="start" textLength="74.9" lengthAdjust="spacingAndGlyphs" fill="#000" stroke="#000" stroke-width="0.2">Days post infusion</text>
<text x="30.00" y="712.10" font-size="14" font-weight="normal" text-anchor="start" textLength="43.2" lengthAdjust="spacingAndGlyphs" fill="#000" stroke="#000" stroke-width="0.2" transform="rotate(-90 30.00 712.10)">Probability</text>
<polyline points="71.20,626.00 71.20,626.00 71.20,637.00 72.50,637.00 72.50,648.80 76.80,648.80 76.80,659.50 80.60,659.50 80.60,671.00 86.70,671.00 86.70,682.00 87.50,682.00 87.50,704.80 92.20,704.80 92.20,715.80 98.60,715.80 98.60,727.30 120.20,727.30 120.20,738.30" fill="none" stroke="#3c6e9c" stroke-width="1.2" />
<polyline points="67.50,626.00 82.80,626.00 82.80,636.20 88.80,636.20 88.80,646.80 105.00,646.80 105.00,657.80 217.00,657.80" fill="none" stroke="#bd3352" stroke-width="1.2" />
<text x="117.00" y="653.00" font-size="10" text-anchor="start" font-weight="normal" fill="#000" >Strong expanders</text>
<text x="110.50" y="721.30" font-size="10" text-anchor="start" font-weight="normal" fill="#000" >Weak expanders</text>
<text x="170.2" y="686.3" font-size="10.3" font-style="italic">P</text>
<text x="179.6" y="686.6" font-size="13.2">&lt;</text>
<text x="190.1" y="686.3" font-size="10.2">0.001</text>
<line x1="344.50" y1="628.50" x2="344.50" y2="753.60" stroke="#000" stroke-width="1.5" />
<line x1="341.50" y1="629.60" x2="344.50" y2="629.60" stroke="#000" stroke-width="1.2" />
<text x="339.10" y="633.45" font-size="10.8" text-anchor="end" font-weight="normal" fill="#000" >150</text>
<line x1="341.50" y1="670.70" x2="344.50" y2="670.70" stroke="#000" stroke-width="1.2" />
<text x="339.10" y="674.55" font-size="10.8" text-anchor="end" font-weight="normal" fill="#000" >100</text>
<line x1="341.50" y1="711.80" x2="344.50" y2="711.80" stroke="#000" stroke-width="1.2" />
<text x="339.10" y="715.65" font-size="10.8" text-anchor="end" font-weight="normal" fill="#000" >50</text>
<line x1="341.50" y1="752.90" x2="344.50" y2="752.90" stroke="#000" stroke-width="1.2" />
<text x="339.10" y="756.75" font-size="10.8" text-anchor="end" font-weight="normal" fill="#000" >0</text>
<line x1="344.50" y1="752.90" x2="471.00" y2="752.90" stroke="#000" stroke-width="1.5" />
<line x1="355.00" y1="716.25" x2="355.00" y2="747.50" stroke="#000" stroke-width="1.2" />
<line x1="352.50" y1="716.25" x2="357.50" y2="716.25" stroke="#000" stroke-width="1.5" />
<rect x="350.20" y="747.50" width="9.60" height="5.00" fill="#fff" stroke="#bd3352" stroke-width="1.2"/>
<line x1="350.20" y1="750.00" x2="359.80" y2="750.00" stroke="#bd3352" stroke-width="1.2" />
<line x1="370.90" y1="644.50" x2="370.90" y2="711.25" stroke="#000" stroke-width="1.2" />
<line x1="368.40" y1="644.50" x2="373.40" y2="644.50" stroke="#000" stroke-width="1.5" />
<line x1="370.90" y1="742.50" x2="370.90" y2="750.00" stroke="#000" stroke-width="1.2" />
<line x1="368.40" y1="750.00" x2="373.40" y2="750.00" stroke="#000" stroke-width="1.5" />
<rect x="366.10" y="711.25" width="9.60" height="31.25" fill="#fff" stroke="#bd3352" stroke-width="1.2"/>
<line x1="366.10" y1="734.50" x2="375.70" y2="734.50" stroke="#bd3352" stroke-width="1.2" />
<line x1="401.25" y1="718.75" x2="401.25" y2="737.50" stroke="#000" stroke-width="1.2" />
<line x1="398.75" y1="718.75" x2="403.75" y2="718.75" stroke="#000" stroke-width="1.5" />
<line x1="401.25" y1="750.00" x2="401.25" y2="751.00" stroke="#000" stroke-width="1.2" />
<line x1="398.75" y1="751.00" x2="403.75" y2="751.00" stroke="#000" stroke-width="1.5" />
<rect x="396.45" y="737.50" width="9.60" height="12.50" fill="#fff" stroke="#bd3352" stroke-width="1.2"/>
<line x1="396.45" y1="747.50" x2="406.05" y2="747.50" stroke="#bd3352" stroke-width="1.2" />
<line x1="417.00" y1="644.50" x2="417.00" y2="703.75" stroke="#000" stroke-width="1.2" />
<line x1="414.50" y1="644.50" x2="419.50" y2="644.50" stroke="#000" stroke-width="1.5" />
<line x1="417.00" y1="746.25" x2="417.00" y2="751.00" stroke="#000" stroke-width="1.2" />
<line x1="414.50" y1="751.00" x2="419.50" y2="751.00" stroke="#000" stroke-width="1.5" />
<rect x="412.20" y="703.75" width="9.60" height="42.50" fill="#fff" stroke="#bd3352" stroke-width="1.2"/>
<line x1="412.20" y1="733.00" x2="421.80" y2="733.00" stroke="#bd3352" stroke-width="1.2" />
<line x1="448.75" y1="659.50" x2="448.75" y2="735.75" stroke="#000" stroke-width="1.2" />
<line x1="446.25" y1="659.50" x2="451.25" y2="659.50" stroke="#000" stroke-width="1.5" />
<line x1="448.75" y1="750.00" x2="448.75" y2="751.00" stroke="#000" stroke-width="1.2" />
<line x1="446.25" y1="751.00" x2="451.25" y2="751.00" stroke="#000" stroke-width="1.5" />
<rect x="443.95" y="735.75" width="9.60" height="14.25" fill="#fff" stroke="#bd3352" stroke-width="1.2"/>
<line x1="443.95" y1="747.00" x2="453.55" y2="747.00" stroke="#bd3352" stroke-width="1.2" />
<line x1="463.75" y1="644.50" x2="463.75" y2="711.25" stroke="#000" stroke-width="1.2" />
<line x1="461.25" y1="644.50" x2="466.25" y2="644.50" stroke="#000" stroke-width="1.5" />
<line x1="463.75" y1="745.00" x2="463.75" y2="750.00" stroke="#000" stroke-width="1.2" />
<line x1="461.25" y1="750.00" x2="466.25" y2="750.00" stroke="#000" stroke-width="1.5" />
<rect x="458.95" y="711.25" width="9.60" height="33.75" fill="#fff" stroke="#bd3352" stroke-width="1.2"/>
<line x1="458.95" y1="732.00" x2="468.55" y2="732.00" stroke="#bd3352" stroke-width="1.2" />
<line x1="351.25" y1="638.75" x2="373.75" y2="638.75" stroke="#000" stroke-width="1.3" />
<text x="362.80" y="640.50" font-size="11.2" text-anchor="middle" font-weight="normal" fill="#000" stroke="#000" stroke-width="0.12">**</text>
<line x1="399.50" y1="638.75" x2="422.00" y2="638.75" stroke="#000" stroke-width="1.3" />
<text x="410.75" y="633.90" font-size="10.3" text-anchor="middle" font-weight="normal" fill="#000" >ns</text>
<line x1="442.00" y1="638.75" x2="464.50" y2="638.75" stroke="#000" stroke-width="1.3" />
<text x="453.25" y="633.90" font-size="10.3" text-anchor="middle" font-weight="normal" fill="#000" >ns</text>
<text x="361.70" y="766.20" font-size="10" text-anchor="middle" font-weight="normal" fill="#000" >no yes</text>
<text x="392.60" y="766.20" font-size="10.3" text-anchor="start" font-weight="normal" fill="#000" >0-1</text>
<text x="410.30" y="766.60" font-size="13.2" text-anchor="start" font-weight="normal" fill="#000" >&gt;</text>
<text x="421.30" y="766.20" font-size="10.3" text-anchor="start" font-weight="normal" fill="#000" >1</text>
<text x="456.60" y="766.20" font-size="10.3" text-anchor="middle" font-weight="normal" fill="#000" >0 1-4</text>
<text x="361.80" y="782.20" font-size="10.2" text-anchor="middle" font-weight="normal" fill="#000" >Response</text>
<text x="410.50" y="782.20" font-size="10.5" text-anchor="middle" font-weight="normal" fill="#000" >CRS</text>
<text x="455.20" y="782.20" font-size="10.4" text-anchor="middle" font-weight="normal" fill="#000" >ICANS</text>
<text x="335.9" y="799.5" font-size="10.5" font-style="italic">P</text>
<text x="344.6" y="800.2" font-size="13.5">=</text>
<text x="355.0" y="799.5" font-size="10.6">0.006;</text>
<text x="389.6" y="799.5" font-size="10">ns</text>
<text x="401.9" y="800.2" font-size="13.2">=</text>
<text x="413.0" y="799.5" font-size="10.35">not significant</text>
<text x="307.40" y="727.40" font-size="14" font-weight="normal" text-anchor="start" textLength="63.4" lengthAdjust="spacingAndGlyphs" fill="#000" stroke="#000" stroke-width="0.2" transform="rotate(-90 307.40 727.40)">Peak axi-cel/μL</text>
</svg></body></html>
